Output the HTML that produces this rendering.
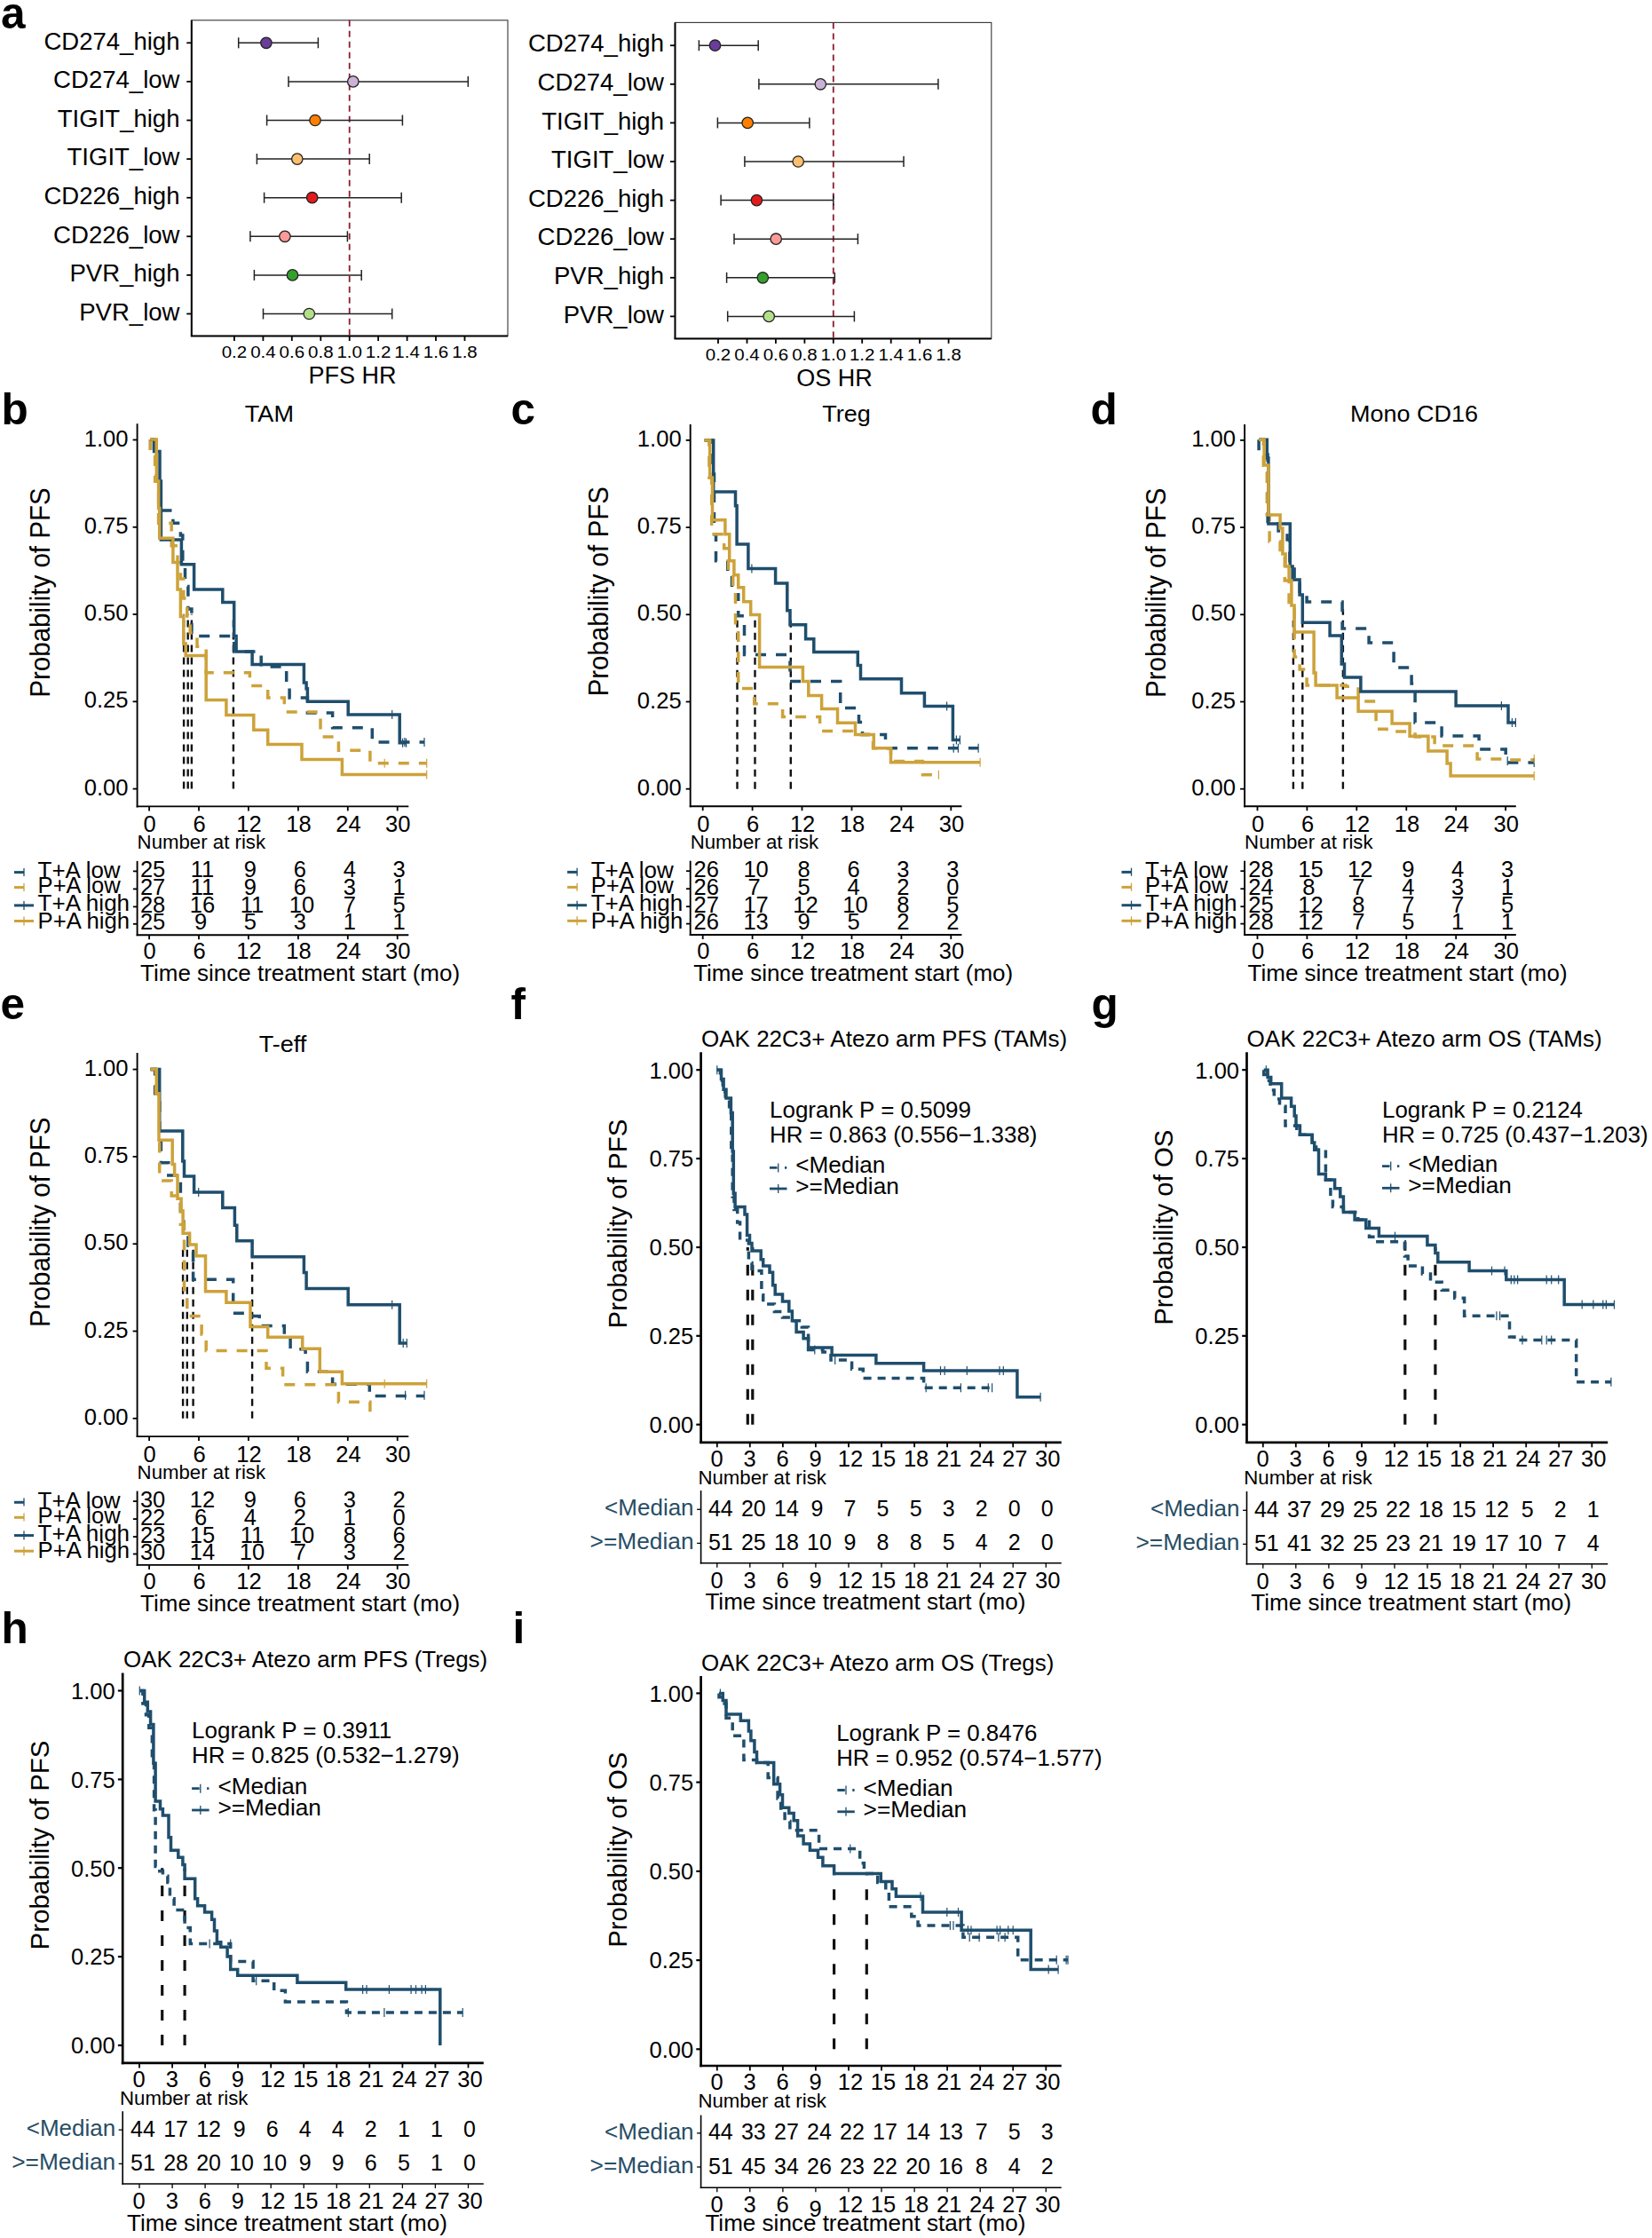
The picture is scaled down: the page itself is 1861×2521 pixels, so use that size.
<!DOCTYPE html>
<html lang="en"><head><meta charset="utf-8"><title>Figure</title>
<style>html,body{margin:0;padding:0;background:#fff}body{width:1861px;height:2521px;overflow:hidden}svg text{font-family:"Liberation Sans",sans-serif}</style></head>
<body>
<svg width="1861" height="2521" viewBox="0 0 1861 2521" font-family="'Liberation Sans', sans-serif" style="display:block">
<rect width="1861" height="2521" fill="#fff"/>
<text x="1.0" y="32.0" font-size="49.5" font-weight="bold">a</text>
<rect x="215.8" y="22.8" width="356.2" height="355.7" fill="none" stroke="#333" stroke-width="1.1"/>
<line x1="215.8" y1="22.8" x2="215.8" y2="378.5" stroke="#000" stroke-width="2"/>
<line x1="214.8" y1="378.5" x2="572.0" y2="378.5" stroke="#000" stroke-width="2"/>
<line x1="393.7" y1="22.8" x2="393.7" y2="378.5" stroke="#8b1a33" stroke-width="1.8" stroke-dasharray="7 5"/>
<line x1="263.9" y1="378.5" x2="263.9" y2="384.0" stroke="#000" stroke-width="1.8"/>
<text x="263.9" y="402.8" font-size="17.5" text-anchor="middle" textLength="28.5" lengthAdjust="spacingAndGlyphs">0.2</text>
<line x1="296.4" y1="378.5" x2="296.4" y2="384.0" stroke="#000" stroke-width="1.8"/>
<text x="296.4" y="402.8" font-size="17.5" text-anchor="middle" textLength="28.5" lengthAdjust="spacingAndGlyphs">0.4</text>
<line x1="328.8" y1="378.5" x2="328.8" y2="384.0" stroke="#000" stroke-width="1.8"/>
<text x="328.8" y="402.8" font-size="17.5" text-anchor="middle" textLength="28.5" lengthAdjust="spacingAndGlyphs">0.6</text>
<line x1="361.3" y1="378.5" x2="361.3" y2="384.0" stroke="#000" stroke-width="1.8"/>
<text x="361.3" y="402.8" font-size="17.5" text-anchor="middle" textLength="28.5" lengthAdjust="spacingAndGlyphs">0.8</text>
<line x1="393.7" y1="378.5" x2="393.7" y2="384.0" stroke="#000" stroke-width="1.8"/>
<text x="393.7" y="402.8" font-size="17.5" text-anchor="middle" textLength="28.5" lengthAdjust="spacingAndGlyphs">1.0</text>
<line x1="426.1" y1="378.5" x2="426.1" y2="384.0" stroke="#000" stroke-width="1.8"/>
<text x="426.1" y="402.8" font-size="17.5" text-anchor="middle" textLength="28.5" lengthAdjust="spacingAndGlyphs">1.2</text>
<line x1="458.6" y1="378.5" x2="458.6" y2="384.0" stroke="#000" stroke-width="1.8"/>
<text x="458.6" y="402.8" font-size="17.5" text-anchor="middle" textLength="28.5" lengthAdjust="spacingAndGlyphs">1.4</text>
<line x1="491.0" y1="378.5" x2="491.0" y2="384.0" stroke="#000" stroke-width="1.8"/>
<text x="491.0" y="402.8" font-size="17.5" text-anchor="middle" textLength="28.5" lengthAdjust="spacingAndGlyphs">1.6</text>
<line x1="523.5" y1="378.5" x2="523.5" y2="384.0" stroke="#000" stroke-width="1.8"/>
<text x="523.5" y="402.8" font-size="17.5" text-anchor="middle" textLength="28.5" lengthAdjust="spacingAndGlyphs">1.8</text>
<text x="397.0" y="432.0" font-size="27" text-anchor="middle">PFS HR</text>
<line x1="210.3" y1="48.3" x2="215.8" y2="48.3" stroke="#000" stroke-width="1.8"/>
<text x="202.5" y="55.5" font-size="27" text-anchor="end" textLength="153.1" lengthAdjust="spacingAndGlyphs">CD274_high</text>
<line x1="268.7" y1="48.3" x2="358.4" y2="48.3" stroke="#222" stroke-width="1.5"/>
<line x1="268.7" y1="42.3" x2="268.7" y2="54.3" stroke="#222" stroke-width="1.5"/>
<line x1="358.4" y1="42.3" x2="358.4" y2="54.3" stroke="#222" stroke-width="1.5"/>
<circle cx="299.9" cy="48.3" r="6.2" fill="#6a3d9a" stroke="#222" stroke-width="1.3"/>
<line x1="210.3" y1="91.9" x2="215.8" y2="91.9" stroke="#000" stroke-width="1.8"/>
<text x="202.5" y="99.1" font-size="27" text-anchor="end" textLength="142.4" lengthAdjust="spacingAndGlyphs">CD274_low</text>
<line x1="325.0" y1="91.9" x2="527.3" y2="91.9" stroke="#222" stroke-width="1.5"/>
<line x1="325.0" y1="85.9" x2="325.0" y2="97.9" stroke="#222" stroke-width="1.5"/>
<line x1="527.3" y1="85.9" x2="527.3" y2="97.9" stroke="#222" stroke-width="1.5"/>
<circle cx="397.8" cy="91.9" r="6.2" fill="#cab2d6" stroke="#222" stroke-width="1.3"/>
<line x1="210.3" y1="135.5" x2="215.8" y2="135.5" stroke="#000" stroke-width="1.8"/>
<text x="202.5" y="142.7" font-size="27" text-anchor="end" textLength="137.7" lengthAdjust="spacingAndGlyphs">TIGIT_high</text>
<line x1="300.6" y1="135.5" x2="453.4" y2="135.5" stroke="#222" stroke-width="1.5"/>
<line x1="300.6" y1="129.5" x2="300.6" y2="141.5" stroke="#222" stroke-width="1.5"/>
<line x1="453.4" y1="129.5" x2="453.4" y2="141.5" stroke="#222" stroke-width="1.5"/>
<circle cx="355.0" cy="135.5" r="6.2" fill="#ff7f00" stroke="#222" stroke-width="1.3"/>
<line x1="210.3" y1="179.1" x2="215.8" y2="179.1" stroke="#000" stroke-width="1.8"/>
<text x="202.5" y="186.3" font-size="27" text-anchor="end" textLength="127.0" lengthAdjust="spacingAndGlyphs">TIGIT_low</text>
<line x1="289.4" y1="179.1" x2="416.2" y2="179.1" stroke="#222" stroke-width="1.5"/>
<line x1="289.4" y1="173.1" x2="289.4" y2="185.1" stroke="#222" stroke-width="1.5"/>
<line x1="416.2" y1="173.1" x2="416.2" y2="185.1" stroke="#222" stroke-width="1.5"/>
<circle cx="334.8" cy="179.1" r="6.2" fill="#fdbf6f" stroke="#222" stroke-width="1.3"/>
<line x1="210.3" y1="222.7" x2="215.8" y2="222.7" stroke="#000" stroke-width="1.8"/>
<text x="202.5" y="229.9" font-size="27" text-anchor="end" textLength="153.1" lengthAdjust="spacingAndGlyphs">CD226_high</text>
<line x1="297.6" y1="222.7" x2="452.2" y2="222.7" stroke="#222" stroke-width="1.5"/>
<line x1="297.6" y1="216.7" x2="297.6" y2="228.7" stroke="#222" stroke-width="1.5"/>
<line x1="452.2" y1="216.7" x2="452.2" y2="228.7" stroke="#222" stroke-width="1.5"/>
<circle cx="351.7" cy="222.7" r="6.2" fill="#e31a1c" stroke="#222" stroke-width="1.3"/>
<line x1="210.3" y1="266.3" x2="215.8" y2="266.3" stroke="#000" stroke-width="1.8"/>
<text x="202.5" y="273.5" font-size="27" text-anchor="end" textLength="142.4" lengthAdjust="spacingAndGlyphs">CD226_low</text>
<line x1="281.9" y1="266.3" x2="391.4" y2="266.3" stroke="#222" stroke-width="1.5"/>
<line x1="281.9" y1="260.3" x2="281.9" y2="272.3" stroke="#222" stroke-width="1.5"/>
<line x1="391.4" y1="260.3" x2="391.4" y2="272.3" stroke="#222" stroke-width="1.5"/>
<circle cx="320.9" cy="266.3" r="6.2" fill="#fb9a99" stroke="#222" stroke-width="1.3"/>
<line x1="210.3" y1="309.9" x2="215.8" y2="309.9" stroke="#000" stroke-width="1.8"/>
<text x="202.5" y="317.1" font-size="27" text-anchor="end" textLength="124.0" lengthAdjust="spacingAndGlyphs">PVR_high</text>
<line x1="286.4" y1="309.9" x2="407.2" y2="309.9" stroke="#222" stroke-width="1.5"/>
<line x1="286.4" y1="303.9" x2="286.4" y2="315.9" stroke="#222" stroke-width="1.5"/>
<line x1="407.2" y1="303.9" x2="407.2" y2="315.9" stroke="#222" stroke-width="1.5"/>
<circle cx="329.5" cy="309.9" r="6.2" fill="#33a02c" stroke="#222" stroke-width="1.3"/>
<line x1="210.3" y1="353.5" x2="215.8" y2="353.5" stroke="#000" stroke-width="1.8"/>
<text x="202.5" y="360.7" font-size="27" text-anchor="end" textLength="113.3" lengthAdjust="spacingAndGlyphs">PVR_low</text>
<line x1="296.5" y1="353.5" x2="441.7" y2="353.5" stroke="#222" stroke-width="1.5"/>
<line x1="296.5" y1="347.5" x2="296.5" y2="359.5" stroke="#222" stroke-width="1.5"/>
<line x1="441.7" y1="347.5" x2="441.7" y2="359.5" stroke="#222" stroke-width="1.5"/>
<circle cx="348.3" cy="353.5" r="6.2" fill="#b2df8a" stroke="#222" stroke-width="1.3"/>
<rect x="760.5" y="25.4" width="356.3" height="356.0" fill="none" stroke="#333" stroke-width="1.1"/>
<line x1="760.5" y1="25.4" x2="760.5" y2="381.4" stroke="#000" stroke-width="2"/>
<line x1="759.5" y1="381.4" x2="1116.8" y2="381.4" stroke="#000" stroke-width="2"/>
<line x1="938.8" y1="25.4" x2="938.8" y2="381.4" stroke="#8b1a33" stroke-width="1.8" stroke-dasharray="7 5"/>
<line x1="809.0" y1="381.4" x2="809.0" y2="386.9" stroke="#000" stroke-width="1.8"/>
<text x="809.0" y="405.5" font-size="17.5" text-anchor="middle" textLength="28.5" lengthAdjust="spacingAndGlyphs">0.2</text>
<line x1="841.5" y1="381.4" x2="841.5" y2="386.9" stroke="#000" stroke-width="1.8"/>
<text x="841.5" y="405.5" font-size="17.5" text-anchor="middle" textLength="28.5" lengthAdjust="spacingAndGlyphs">0.4</text>
<line x1="873.9" y1="381.4" x2="873.9" y2="386.9" stroke="#000" stroke-width="1.8"/>
<text x="873.9" y="405.5" font-size="17.5" text-anchor="middle" textLength="28.5" lengthAdjust="spacingAndGlyphs">0.6</text>
<line x1="906.4" y1="381.4" x2="906.4" y2="386.9" stroke="#000" stroke-width="1.8"/>
<text x="906.4" y="405.5" font-size="17.5" text-anchor="middle" textLength="28.5" lengthAdjust="spacingAndGlyphs">0.8</text>
<line x1="938.8" y1="381.4" x2="938.8" y2="386.9" stroke="#000" stroke-width="1.8"/>
<text x="938.8" y="405.5" font-size="17.5" text-anchor="middle" textLength="28.5" lengthAdjust="spacingAndGlyphs">1.0</text>
<line x1="971.2" y1="381.4" x2="971.2" y2="386.9" stroke="#000" stroke-width="1.8"/>
<text x="971.2" y="405.5" font-size="17.5" text-anchor="middle" textLength="28.5" lengthAdjust="spacingAndGlyphs">1.2</text>
<line x1="1003.7" y1="381.4" x2="1003.7" y2="386.9" stroke="#000" stroke-width="1.8"/>
<text x="1003.7" y="405.5" font-size="17.5" text-anchor="middle" textLength="28.5" lengthAdjust="spacingAndGlyphs">1.4</text>
<line x1="1036.1" y1="381.4" x2="1036.1" y2="386.9" stroke="#000" stroke-width="1.8"/>
<text x="1036.1" y="405.5" font-size="17.5" text-anchor="middle" textLength="28.5" lengthAdjust="spacingAndGlyphs">1.6</text>
<line x1="1068.6" y1="381.4" x2="1068.6" y2="386.9" stroke="#000" stroke-width="1.8"/>
<text x="1068.6" y="405.5" font-size="17.5" text-anchor="middle" textLength="28.5" lengthAdjust="spacingAndGlyphs">1.8</text>
<text x="940.0" y="435.0" font-size="27" text-anchor="middle">OS HR</text>
<line x1="755.0" y1="51.2" x2="760.5" y2="51.2" stroke="#000" stroke-width="1.8"/>
<text x="748.0" y="58.4" font-size="27" text-anchor="end" textLength="153.1" lengthAdjust="spacingAndGlyphs">CD274_high</text>
<line x1="787.4" y1="51.2" x2="854.2" y2="51.2" stroke="#222" stroke-width="1.5"/>
<line x1="787.4" y1="45.2" x2="787.4" y2="57.2" stroke="#222" stroke-width="1.5"/>
<line x1="854.2" y1="45.2" x2="854.2" y2="57.2" stroke="#222" stroke-width="1.5"/>
<circle cx="805.5" cy="51.2" r="6.2" fill="#6a3d9a" stroke="#222" stroke-width="1.3"/>
<line x1="755.0" y1="94.8" x2="760.5" y2="94.8" stroke="#000" stroke-width="1.8"/>
<text x="748.0" y="102.0" font-size="27" text-anchor="end" textLength="142.4" lengthAdjust="spacingAndGlyphs">CD274_low</text>
<line x1="854.9" y1="94.8" x2="1056.9" y2="94.8" stroke="#222" stroke-width="1.5"/>
<line x1="854.9" y1="88.8" x2="854.9" y2="100.8" stroke="#222" stroke-width="1.5"/>
<line x1="1056.9" y1="88.8" x2="1056.9" y2="100.8" stroke="#222" stroke-width="1.5"/>
<circle cx="924.3" cy="94.8" r="6.2" fill="#cab2d6" stroke="#222" stroke-width="1.3"/>
<line x1="755.0" y1="138.4" x2="760.5" y2="138.4" stroke="#000" stroke-width="1.8"/>
<text x="748.0" y="145.6" font-size="27" text-anchor="end" textLength="137.7" lengthAdjust="spacingAndGlyphs">TIGIT_high</text>
<line x1="808.4" y1="138.4" x2="911.9" y2="138.4" stroke="#222" stroke-width="1.5"/>
<line x1="808.4" y1="132.4" x2="808.4" y2="144.4" stroke="#222" stroke-width="1.5"/>
<line x1="911.9" y1="132.4" x2="911.9" y2="144.4" stroke="#222" stroke-width="1.5"/>
<circle cx="842.2" cy="138.4" r="6.2" fill="#ff7f00" stroke="#222" stroke-width="1.3"/>
<line x1="755.0" y1="182.0" x2="760.5" y2="182.0" stroke="#000" stroke-width="1.8"/>
<text x="748.0" y="189.2" font-size="27" text-anchor="end" textLength="127.0" lengthAdjust="spacingAndGlyphs">TIGIT_low</text>
<line x1="838.9" y1="182.0" x2="1018.0" y2="182.0" stroke="#222" stroke-width="1.5"/>
<line x1="838.9" y1="176.0" x2="838.9" y2="188.0" stroke="#222" stroke-width="1.5"/>
<line x1="1018.0" y1="176.0" x2="1018.0" y2="188.0" stroke="#222" stroke-width="1.5"/>
<circle cx="899.2" cy="182.0" r="6.2" fill="#fdbf6f" stroke="#222" stroke-width="1.3"/>
<line x1="755.0" y1="225.6" x2="760.5" y2="225.6" stroke="#000" stroke-width="1.8"/>
<text x="748.0" y="232.8" font-size="27" text-anchor="end" textLength="153.1" lengthAdjust="spacingAndGlyphs">CD226_high</text>
<line x1="812.1" y1="225.6" x2="938.8" y2="225.6" stroke="#222" stroke-width="1.5"/>
<line x1="812.1" y1="219.6" x2="812.1" y2="231.6" stroke="#222" stroke-width="1.5"/>
<line x1="938.8" y1="219.6" x2="938.8" y2="231.6" stroke="#222" stroke-width="1.5"/>
<circle cx="852.4" cy="225.6" r="6.2" fill="#e31a1c" stroke="#222" stroke-width="1.3"/>
<line x1="755.0" y1="269.2" x2="760.5" y2="269.2" stroke="#000" stroke-width="1.8"/>
<text x="748.0" y="276.4" font-size="27" text-anchor="end" textLength="142.4" lengthAdjust="spacingAndGlyphs">CD226_low</text>
<line x1="827.0" y1="269.2" x2="966.4" y2="269.2" stroke="#222" stroke-width="1.5"/>
<line x1="827.0" y1="263.2" x2="827.0" y2="275.2" stroke="#222" stroke-width="1.5"/>
<line x1="966.4" y1="263.2" x2="966.4" y2="275.2" stroke="#222" stroke-width="1.5"/>
<circle cx="874.2" cy="269.2" r="6.2" fill="#fb9a99" stroke="#222" stroke-width="1.3"/>
<line x1="755.0" y1="312.8" x2="760.5" y2="312.8" stroke="#000" stroke-width="1.8"/>
<text x="748.0" y="320.0" font-size="27" text-anchor="end" textLength="124.0" lengthAdjust="spacingAndGlyphs">PVR_high</text>
<line x1="818.6" y1="312.8" x2="940.3" y2="312.8" stroke="#222" stroke-width="1.5"/>
<line x1="818.6" y1="306.8" x2="818.6" y2="318.8" stroke="#222" stroke-width="1.5"/>
<line x1="940.3" y1="306.8" x2="940.3" y2="318.8" stroke="#222" stroke-width="1.5"/>
<circle cx="859.3" cy="312.8" r="6.2" fill="#33a02c" stroke="#222" stroke-width="1.3"/>
<line x1="755.0" y1="356.4" x2="760.5" y2="356.4" stroke="#000" stroke-width="1.8"/>
<text x="748.0" y="363.6" font-size="27" text-anchor="end" textLength="113.3" lengthAdjust="spacingAndGlyphs">PVR_low</text>
<line x1="819.7" y1="356.4" x2="962.4" y2="356.4" stroke="#222" stroke-width="1.5"/>
<line x1="819.7" y1="350.4" x2="819.7" y2="362.4" stroke="#222" stroke-width="1.5"/>
<line x1="962.4" y1="350.4" x2="962.4" y2="362.4" stroke="#222" stroke-width="1.5"/>
<circle cx="866.2" cy="356.4" r="6.2" fill="#b2df8a" stroke="#222" stroke-width="1.3"/>
<text x="1.5" y="477.5" font-size="49.5" font-weight="bold">b</text>
<text x="303.4" y="474.9" font-size="26.5" text-anchor="middle" textLength="55.1" lengthAdjust="spacingAndGlyphs">TAM</text>
<line x1="154.6" y1="477.3" x2="154.6" y2="909.4" stroke="#000" stroke-width="1.9"/>
<line x1="153.7" y1="908.4" x2="460.3" y2="908.4" stroke="#000" stroke-width="1.9"/>
<line x1="149.6" y1="888.6" x2="154.6" y2="888.6" stroke="#000" stroke-width="1.8"/>
<text x="144.6" y="895.7" font-size="25.6" text-anchor="end">0.00</text>
<line x1="149.6" y1="790.3" x2="154.6" y2="790.3" stroke="#000" stroke-width="1.8"/>
<text x="144.6" y="797.4" font-size="25.6" text-anchor="end">0.25</text>
<line x1="149.6" y1="692.0" x2="154.6" y2="692.0" stroke="#000" stroke-width="1.8"/>
<text x="144.6" y="699.1" font-size="25.6" text-anchor="end">0.50</text>
<line x1="149.6" y1="593.8" x2="154.6" y2="593.8" stroke="#000" stroke-width="1.8"/>
<text x="144.6" y="600.9" font-size="25.6" text-anchor="end">0.75</text>
<line x1="149.6" y1="495.5" x2="154.6" y2="495.5" stroke="#000" stroke-width="1.8"/>
<text x="144.6" y="502.6" font-size="25.6" text-anchor="end">1.00</text>
<text font-size="31" text-anchor="middle" textLength="236.5" lengthAdjust="spacingAndGlyphs" transform="translate(56.0 667.5) rotate(-90)">Probability of PFS</text>
<line x1="168.1" y1="908.4" x2="168.1" y2="913.4" stroke="#000" stroke-width="1.8"/>
<text x="168.7" y="937.2" font-size="25.5" text-anchor="middle">0</text>
<line x1="224.0" y1="908.4" x2="224.0" y2="913.4" stroke="#000" stroke-width="1.8"/>
<text x="224.6" y="937.2" font-size="25.5" text-anchor="middle">6</text>
<line x1="279.9" y1="908.4" x2="279.9" y2="913.4" stroke="#000" stroke-width="1.8"/>
<text x="280.5" y="937.2" font-size="25.5" text-anchor="middle">12</text>
<line x1="335.9" y1="908.4" x2="335.9" y2="913.4" stroke="#000" stroke-width="1.8"/>
<text x="336.5" y="937.2" font-size="25.5" text-anchor="middle">18</text>
<line x1="391.8" y1="908.4" x2="391.8" y2="913.4" stroke="#000" stroke-width="1.8"/>
<text x="392.4" y="937.2" font-size="25.5" text-anchor="middle">24</text>
<line x1="447.7" y1="908.4" x2="447.7" y2="913.4" stroke="#000" stroke-width="1.8"/>
<text x="448.3" y="937.2" font-size="25.5" text-anchor="middle">30</text>
<text x="154.6" y="955.9" font-size="22" textLength="144.5" lengthAdjust="spacingAndGlyphs">Number at risk</text>
<line x1="154.6" y1="969.9" x2="154.6" y2="1054.2" stroke="#000" stroke-width="1.9"/>
<line x1="153.7" y1="1053.2" x2="460.3" y2="1053.2" stroke="#000" stroke-width="1.9"/>
<line x1="149.9" y1="981.4" x2="154.6" y2="981.4" stroke="#000" stroke-width="1.8"/>
<text x="42.6" y="989.2" font-size="25.5" textLength="93.0" lengthAdjust="spacingAndGlyphs">T+A low</text>
<line x1="16.0" y1="982.6" x2="27.0" y2="982.6" stroke="#1f4e6d" stroke-width="3"/>
<line x1="27.0" y1="977.9" x2="27.0" y2="986.9" stroke="#1f4e6d" stroke-width="1.3"/>
<text x="172.1" y="987.9" font-size="25.5" text-anchor="middle">25</text>
<text x="228.0" y="987.9" font-size="25.5" text-anchor="middle">11</text>
<text x="281.9" y="987.9" font-size="25.5" text-anchor="middle">9</text>
<text x="337.9" y="987.9" font-size="25.5" text-anchor="middle">6</text>
<text x="393.8" y="987.9" font-size="25.5" text-anchor="middle">4</text>
<text x="449.7" y="987.9" font-size="25.5" text-anchor="middle">3</text>
<line x1="149.9" y1="1001.4" x2="154.6" y2="1001.4" stroke="#000" stroke-width="1.8"/>
<text x="42.6" y="1006.3" font-size="25.5" textLength="93.0" lengthAdjust="spacingAndGlyphs">P+A low</text>
<line x1="16.0" y1="999.6" x2="27.0" y2="999.6" stroke="#cda23a" stroke-width="3"/>
<line x1="27.0" y1="994.9" x2="27.0" y2="1003.9" stroke="#cda23a" stroke-width="1.3"/>
<text x="172.1" y="1007.9" font-size="25.5" text-anchor="middle">27</text>
<text x="228.0" y="1007.9" font-size="25.5" text-anchor="middle">11</text>
<text x="281.9" y="1007.9" font-size="25.5" text-anchor="middle">9</text>
<text x="337.9" y="1007.9" font-size="25.5" text-anchor="middle">6</text>
<text x="393.8" y="1007.9" font-size="25.5" text-anchor="middle">3</text>
<text x="449.7" y="1007.9" font-size="25.5" text-anchor="middle">1</text>
<line x1="149.9" y1="1021.4" x2="154.6" y2="1021.4" stroke="#000" stroke-width="1.8"/>
<text x="42.6" y="1026.3" font-size="25.5" textLength="103.5" lengthAdjust="spacingAndGlyphs">T+A high</text>
<line x1="16.0" y1="1019.9" x2="38.0" y2="1019.9" stroke="#1f4e6d" stroke-width="3"/>
<line x1="27.0" y1="1014.9" x2="27.0" y2="1024.9" stroke="#1f4e6d" stroke-width="1.3"/>
<text x="172.1" y="1027.9" font-size="25.5" text-anchor="middle">28</text>
<text x="228.0" y="1027.9" font-size="25.5" text-anchor="middle">16</text>
<text x="283.9" y="1027.9" font-size="25.5" text-anchor="middle">11</text>
<text x="339.9" y="1027.9" font-size="25.5" text-anchor="middle">10</text>
<text x="393.8" y="1027.9" font-size="25.5" text-anchor="middle">7</text>
<text x="449.7" y="1027.9" font-size="25.5" text-anchor="middle">5</text>
<line x1="149.9" y1="1040.8" x2="154.6" y2="1040.8" stroke="#000" stroke-width="1.8"/>
<text x="42.6" y="1045.7" font-size="25.5" textLength="103.5" lengthAdjust="spacingAndGlyphs">P+A high</text>
<line x1="16.0" y1="1037.5" x2="38.0" y2="1037.5" stroke="#cda23a" stroke-width="3"/>
<line x1="27.0" y1="1032.5" x2="27.0" y2="1042.5" stroke="#cda23a" stroke-width="1.3"/>
<text x="172.1" y="1047.3" font-size="25.5" text-anchor="middle">25</text>
<text x="226.0" y="1047.3" font-size="25.5" text-anchor="middle">9</text>
<text x="281.9" y="1047.3" font-size="25.5" text-anchor="middle">5</text>
<text x="337.9" y="1047.3" font-size="25.5" text-anchor="middle">3</text>
<text x="393.8" y="1047.3" font-size="25.5" text-anchor="middle">1</text>
<text x="449.7" y="1047.3" font-size="25.5" text-anchor="middle">1</text>
<line x1="168.1" y1="1053.2" x2="168.1" y2="1058.2" stroke="#000" stroke-width="1.8"/>
<text x="168.7" y="1080.2" font-size="25.5" text-anchor="middle">0</text>
<line x1="224.0" y1="1053.2" x2="224.0" y2="1058.2" stroke="#000" stroke-width="1.8"/>
<text x="224.6" y="1080.2" font-size="25.5" text-anchor="middle">6</text>
<line x1="279.9" y1="1053.2" x2="279.9" y2="1058.2" stroke="#000" stroke-width="1.8"/>
<text x="280.5" y="1080.2" font-size="25.5" text-anchor="middle">12</text>
<line x1="335.9" y1="1053.2" x2="335.9" y2="1058.2" stroke="#000" stroke-width="1.8"/>
<text x="336.5" y="1080.2" font-size="25.5" text-anchor="middle">18</text>
<line x1="391.8" y1="1053.2" x2="391.8" y2="1058.2" stroke="#000" stroke-width="1.8"/>
<text x="392.4" y="1080.2" font-size="25.5" text-anchor="middle">24</text>
<line x1="447.7" y1="1053.2" x2="447.7" y2="1058.2" stroke="#000" stroke-width="1.8"/>
<text x="448.3" y="1080.2" font-size="25.5" text-anchor="middle">30</text>
<text x="158.1" y="1104.8" font-size="26" textLength="360.0" lengthAdjust="spacingAndGlyphs">Time since treatment start (mo)</text>
<line x1="207.1" y1="888.6" x2="207.1" y2="691.7" stroke="#111" stroke-width="2.4" stroke-dasharray="8 6"/>
<line x1="211.7" y1="888.6" x2="211.7" y2="691.7" stroke="#111" stroke-width="2.4" stroke-dasharray="8 6"/>
<line x1="215.9" y1="888.6" x2="215.9" y2="691.7" stroke="#111" stroke-width="2.4" stroke-dasharray="8 6"/>
<line x1="262.9" y1="888.6" x2="262.9" y2="696.1" stroke="#111" stroke-width="2.4" stroke-dasharray="8 6"/>
<path d="M169.5 495.1V508.6H176.3V541.9H180.7V575.1H194.9V589.3H203.4V602.9H205.8V633.4H208.5V660.5H211.9V685.9H215.9V716.4H263.7V734.1H294.2V751.0H322.7V768.0H326.1V785.9H346.4V802.9H374.6V819.8H419.3V836.1H478.0" fill="none" stroke="#1f4e6d" stroke-width="3.5" stroke-dasharray="12 11" stroke-linejoin="miter"/>
<path d="M169.5 495.1V508.6H174.6V541.9H178.6V589.3H193.2V614.7H200.0V633.4H203.4V652.0H206.8V674.1H210.8V697.8H214.2V713.1H222.0V728.3H232.2V757.8H281.4V772.4H301.7V785.9H320.3V801.9H361.0V830.0H381.4V845.3H416.9V859.8H480.7" fill="none" stroke="#cda23a" stroke-width="3.5" stroke-dasharray="12 11" stroke-linejoin="miter"/>
<path d="M169.5 495.1H173.6V508.6H180.0V541.9H181.4V608.0H204.4V635.8H218.6V663.9H250.8V678.5H263.7V716.4H266.1V734.1H284.1V748.6H342.4V769.0H345.1V775.8H346.4V790.3H392.2V804.9H450.2V836.8H457.6" fill="none" stroke="#1f4e6d" stroke-width="3.5" stroke-linejoin="miter"/>
<path d="M169.5 495.1H176.3V541.9H178.6V572.4H179.7V606.3H194.9V633.4H200.0V663.9H203.4V694.4H206.8V724.9H209.2V738.5H232.2V788.6H254.9V805.6H285.8V822.2H301.7V838.5H340.0V855.4H385.4V872.4H480.7" fill="none" stroke="#cda23a" stroke-width="3.5" stroke-linejoin="miter"/>
<line x1="441.7" y1="799.9" x2="441.7" y2="809.9" stroke="#1f4e6d" stroke-width="1.2"/>
<line x1="453.6" y1="831.8" x2="453.6" y2="841.8" stroke="#1f4e6d" stroke-width="1.2"/>
<line x1="457.6" y1="831.8" x2="457.6" y2="841.8" stroke="#1f4e6d" stroke-width="1.2"/>
<line x1="478.0" y1="831.1" x2="478.0" y2="841.1" stroke="#1f4e6d" stroke-width="1.2"/>
<line x1="455.9" y1="831.1" x2="455.9" y2="841.1" stroke="#1f4e6d" stroke-width="1.2"/>
<line x1="433.2" y1="854.8" x2="433.2" y2="864.8" stroke="#cda23a" stroke-width="1.2"/>
<line x1="480.7" y1="854.8" x2="480.7" y2="864.8" stroke="#cda23a" stroke-width="1.2"/>
<line x1="480.7" y1="867.4" x2="480.7" y2="877.4" stroke="#cda23a" stroke-width="1.2"/>
<text x="575.5" y="478.0" font-size="49.5" font-weight="bold">c</text>
<text x="953.5" y="474.7" font-size="26.5" text-anchor="middle" textLength="54.6" lengthAdjust="spacingAndGlyphs">Treg</text>
<line x1="777.7" y1="478.0" x2="777.7" y2="909.2" stroke="#000" stroke-width="1.9"/>
<line x1="776.8" y1="908.2" x2="1083.4" y2="908.2" stroke="#000" stroke-width="1.9"/>
<line x1="772.7" y1="888.7" x2="777.7" y2="888.7" stroke="#000" stroke-width="1.8"/>
<text x="767.7" y="895.8" font-size="25.6" text-anchor="end">0.00</text>
<line x1="772.7" y1="790.5" x2="777.7" y2="790.5" stroke="#000" stroke-width="1.8"/>
<text x="767.7" y="797.6" font-size="25.6" text-anchor="end">0.25</text>
<line x1="772.7" y1="692.3" x2="777.7" y2="692.3" stroke="#000" stroke-width="1.8"/>
<text x="767.7" y="699.4" font-size="25.6" text-anchor="end">0.50</text>
<line x1="772.7" y1="594.1" x2="777.7" y2="594.1" stroke="#000" stroke-width="1.8"/>
<text x="767.7" y="601.2" font-size="25.6" text-anchor="end">0.75</text>
<line x1="772.7" y1="495.9" x2="777.7" y2="495.9" stroke="#000" stroke-width="1.8"/>
<text x="767.7" y="503.0" font-size="25.6" text-anchor="end">1.00</text>
<text font-size="31" text-anchor="middle" textLength="236.5" lengthAdjust="spacingAndGlyphs" transform="translate(685.0 666.3) rotate(-90)">Probability of PFS</text>
<line x1="791.7" y1="908.2" x2="791.7" y2="913.2" stroke="#000" stroke-width="1.8"/>
<text x="792.3" y="937.0" font-size="25.5" text-anchor="middle">0</text>
<line x1="847.6" y1="908.2" x2="847.6" y2="913.2" stroke="#000" stroke-width="1.8"/>
<text x="848.2" y="937.0" font-size="25.5" text-anchor="middle">6</text>
<line x1="903.5" y1="908.2" x2="903.5" y2="913.2" stroke="#000" stroke-width="1.8"/>
<text x="904.1" y="937.0" font-size="25.5" text-anchor="middle">12</text>
<line x1="959.5" y1="908.2" x2="959.5" y2="913.2" stroke="#000" stroke-width="1.8"/>
<text x="960.1" y="937.0" font-size="25.5" text-anchor="middle">18</text>
<line x1="1015.4" y1="908.2" x2="1015.4" y2="913.2" stroke="#000" stroke-width="1.8"/>
<text x="1016.0" y="937.0" font-size="25.5" text-anchor="middle">24</text>
<line x1="1071.3" y1="908.2" x2="1071.3" y2="913.2" stroke="#000" stroke-width="1.8"/>
<text x="1071.9" y="937.0" font-size="25.5" text-anchor="middle">30</text>
<text x="777.7" y="955.7" font-size="22" textLength="144.5" lengthAdjust="spacingAndGlyphs">Number at risk</text>
<line x1="777.7" y1="969.7" x2="777.7" y2="1054.0" stroke="#000" stroke-width="1.9"/>
<line x1="776.8" y1="1053.0" x2="1083.4" y2="1053.0" stroke="#000" stroke-width="1.9"/>
<line x1="773.0" y1="981.2" x2="777.7" y2="981.2" stroke="#000" stroke-width="1.8"/>
<text x="665.7" y="989.0" font-size="25.5" textLength="93.0" lengthAdjust="spacingAndGlyphs">T+A low</text>
<line x1="639.1" y1="982.4" x2="650.1" y2="982.4" stroke="#1f4e6d" stroke-width="3"/>
<line x1="650.1" y1="977.7" x2="650.1" y2="986.7" stroke="#1f4e6d" stroke-width="1.3"/>
<text x="795.7" y="987.7" font-size="25.5" text-anchor="middle">26</text>
<text x="851.6" y="987.7" font-size="25.5" text-anchor="middle">10</text>
<text x="905.5" y="987.7" font-size="25.5" text-anchor="middle">8</text>
<text x="961.5" y="987.7" font-size="25.5" text-anchor="middle">6</text>
<text x="1017.4" y="987.7" font-size="25.5" text-anchor="middle">3</text>
<text x="1073.3" y="987.7" font-size="25.5" text-anchor="middle">3</text>
<line x1="773.0" y1="1001.2" x2="777.7" y2="1001.2" stroke="#000" stroke-width="1.8"/>
<text x="665.7" y="1006.1" font-size="25.5" textLength="93.0" lengthAdjust="spacingAndGlyphs">P+A low</text>
<line x1="639.1" y1="999.4" x2="650.1" y2="999.4" stroke="#cda23a" stroke-width="3"/>
<line x1="650.1" y1="994.7" x2="650.1" y2="1003.7" stroke="#cda23a" stroke-width="1.3"/>
<text x="795.7" y="1007.7" font-size="25.5" text-anchor="middle">26</text>
<text x="849.6" y="1007.7" font-size="25.5" text-anchor="middle">7</text>
<text x="905.5" y="1007.7" font-size="25.5" text-anchor="middle">5</text>
<text x="961.5" y="1007.7" font-size="25.5" text-anchor="middle">4</text>
<text x="1017.4" y="1007.7" font-size="25.5" text-anchor="middle">2</text>
<text x="1073.3" y="1007.7" font-size="25.5" text-anchor="middle">0</text>
<line x1="773.0" y1="1021.2" x2="777.7" y2="1021.2" stroke="#000" stroke-width="1.8"/>
<text x="665.7" y="1026.1" font-size="25.5" textLength="103.5" lengthAdjust="spacingAndGlyphs">T+A high</text>
<line x1="639.1" y1="1019.7" x2="661.1" y2="1019.7" stroke="#1f4e6d" stroke-width="3"/>
<line x1="650.1" y1="1014.7" x2="650.1" y2="1024.7" stroke="#1f4e6d" stroke-width="1.3"/>
<text x="795.7" y="1027.7" font-size="25.5" text-anchor="middle">27</text>
<text x="851.6" y="1027.7" font-size="25.5" text-anchor="middle">17</text>
<text x="907.5" y="1027.7" font-size="25.5" text-anchor="middle">12</text>
<text x="963.5" y="1027.7" font-size="25.5" text-anchor="middle">10</text>
<text x="1017.4" y="1027.7" font-size="25.5" text-anchor="middle">8</text>
<text x="1073.3" y="1027.7" font-size="25.5" text-anchor="middle">5</text>
<line x1="773.0" y1="1040.6" x2="777.7" y2="1040.6" stroke="#000" stroke-width="1.8"/>
<text x="665.7" y="1045.5" font-size="25.5" textLength="103.5" lengthAdjust="spacingAndGlyphs">P+A high</text>
<line x1="639.1" y1="1037.3" x2="661.1" y2="1037.3" stroke="#cda23a" stroke-width="3"/>
<line x1="650.1" y1="1032.3" x2="650.1" y2="1042.3" stroke="#cda23a" stroke-width="1.3"/>
<text x="795.7" y="1047.1" font-size="25.5" text-anchor="middle">26</text>
<text x="851.6" y="1047.1" font-size="25.5" text-anchor="middle">13</text>
<text x="905.5" y="1047.1" font-size="25.5" text-anchor="middle">9</text>
<text x="961.5" y="1047.1" font-size="25.5" text-anchor="middle">5</text>
<text x="1017.4" y="1047.1" font-size="25.5" text-anchor="middle">2</text>
<text x="1073.3" y="1047.1" font-size="25.5" text-anchor="middle">2</text>
<line x1="791.7" y1="1053.0" x2="791.7" y2="1058.0" stroke="#000" stroke-width="1.8"/>
<text x="792.3" y="1080.0" font-size="25.5" text-anchor="middle">0</text>
<line x1="847.6" y1="1053.0" x2="847.6" y2="1058.0" stroke="#000" stroke-width="1.8"/>
<text x="848.2" y="1080.0" font-size="25.5" text-anchor="middle">6</text>
<line x1="903.5" y1="1053.0" x2="903.5" y2="1058.0" stroke="#000" stroke-width="1.8"/>
<text x="904.1" y="1080.0" font-size="25.5" text-anchor="middle">12</text>
<line x1="959.5" y1="1053.0" x2="959.5" y2="1058.0" stroke="#000" stroke-width="1.8"/>
<text x="960.1" y="1080.0" font-size="25.5" text-anchor="middle">18</text>
<line x1="1015.4" y1="1053.0" x2="1015.4" y2="1058.0" stroke="#000" stroke-width="1.8"/>
<text x="1016.0" y="1080.0" font-size="25.5" text-anchor="middle">24</text>
<line x1="1071.3" y1="1053.0" x2="1071.3" y2="1058.0" stroke="#000" stroke-width="1.8"/>
<text x="1071.9" y="1080.0" font-size="25.5" text-anchor="middle">30</text>
<text x="781.2" y="1104.6" font-size="26" textLength="360.0" lengthAdjust="spacingAndGlyphs">Time since treatment start (mo)</text>
<line x1="830.5" y1="888.7" x2="830.5" y2="693.7" stroke="#111" stroke-width="2.4" stroke-dasharray="8 6"/>
<line x1="850.5" y1="888.7" x2="850.5" y2="693.7" stroke="#111" stroke-width="2.4" stroke-dasharray="8 6"/>
<line x1="890.8" y1="888.7" x2="890.8" y2="693.7" stroke="#111" stroke-width="2.4" stroke-dasharray="8 6"/>
<path d="M793.7 495.9H801.7V533.9H804.5V601.8H806.5V631.8H819.7V643.7H824.5V669.7H831.7V693.7H838.5V737.6H890.0V767.6H946.7V797.6H967.5V813.5H971.5V827.5H997.5V842.7H1102.1" fill="none" stroke="#1f4e6d" stroke-width="3.5" stroke-dasharray="12 11" stroke-linejoin="miter"/>
<path d="M793.7 495.9H798.9V537.9H801.7V601.8H815.7V617.8H820.5V645.7H825.7V669.7H828.5V701.7H831.7V769.6H835.7V775.6H849.7V792.8H881.6V807.5H923.6V823.5H959.5V827.5H983.5V842.7H1003.5V857.5H1039.4V872.7H1057.4" fill="none" stroke="#cda23a" stroke-width="3.5" stroke-dasharray="12 11" stroke-linejoin="miter"/>
<path d="M793.7 495.9H803.7V553.9H828.5V569.8H830.1V613.0H842.9V640.5H873.6V656.9H886.8V687.7H890.0V703.7H907.6V719.7H916.8V734.4H966.3V749.6H969.5V764.8H1015.5V780.8H1041.4V795.6H1073.4V833.5H1081.4" fill="none" stroke="#1f4e6d" stroke-width="3.5" stroke-linejoin="miter"/>
<path d="M793.7 495.9H799.7V537.9H802.5V585.8H816.9V601.8H821.7V631.8H826.9V647.7H831.7V661.7H837.7V677.7H845.7V692.5H855.6V751.6H904.4V767.6H910.8V783.6H925.6V798.4H943.5V814.3H963.5V827.5H984.3V842.7H1003.5V858.7H1104.1" fill="none" stroke="#cda23a" stroke-width="3.5" stroke-linejoin="miter"/>
<line x1="846.9" y1="635.5" x2="846.9" y2="645.5" stroke="#1f4e6d" stroke-width="1.2"/>
<line x1="1066.6" y1="790.6" x2="1066.6" y2="800.6" stroke="#1f4e6d" stroke-width="1.2"/>
<line x1="1077.4" y1="828.5" x2="1077.4" y2="838.5" stroke="#1f4e6d" stroke-width="1.2"/>
<line x1="1081.4" y1="828.5" x2="1081.4" y2="838.5" stroke="#1f4e6d" stroke-width="1.2"/>
<line x1="1074.2" y1="837.7" x2="1074.2" y2="847.7" stroke="#1f4e6d" stroke-width="1.2"/>
<line x1="1079.4" y1="837.7" x2="1079.4" y2="847.7" stroke="#1f4e6d" stroke-width="1.2"/>
<line x1="1102.1" y1="837.7" x2="1102.1" y2="847.7" stroke="#1f4e6d" stroke-width="1.2"/>
<line x1="1104.1" y1="853.7" x2="1104.1" y2="863.7" stroke="#cda23a" stroke-width="1.2"/>
<line x1="1057.4" y1="867.7" x2="1057.4" y2="877.7" stroke="#cda23a" stroke-width="1.2"/>
<text x="1228.5" y="477.5" font-size="49.5" font-weight="bold">d</text>
<text x="1593.0" y="474.7" font-size="26.5" text-anchor="middle" textLength="144.2" lengthAdjust="spacingAndGlyphs">Mono CD16</text>
<line x1="1402.1" y1="478.0" x2="1402.1" y2="909.2" stroke="#000" stroke-width="1.9"/>
<line x1="1401.1" y1="908.2" x2="1707.8" y2="908.2" stroke="#000" stroke-width="1.9"/>
<line x1="1397.1" y1="888.7" x2="1402.1" y2="888.7" stroke="#000" stroke-width="1.8"/>
<text x="1392.1" y="895.8" font-size="25.6" text-anchor="end">0.00</text>
<line x1="1397.1" y1="790.5" x2="1402.1" y2="790.5" stroke="#000" stroke-width="1.8"/>
<text x="1392.1" y="797.6" font-size="25.6" text-anchor="end">0.25</text>
<line x1="1397.1" y1="692.3" x2="1402.1" y2="692.3" stroke="#000" stroke-width="1.8"/>
<text x="1392.1" y="699.4" font-size="25.6" text-anchor="end">0.50</text>
<line x1="1397.1" y1="594.1" x2="1402.1" y2="594.1" stroke="#000" stroke-width="1.8"/>
<text x="1392.1" y="601.2" font-size="25.6" text-anchor="end">0.75</text>
<line x1="1397.1" y1="495.9" x2="1402.1" y2="495.9" stroke="#000" stroke-width="1.8"/>
<text x="1392.1" y="503.0" font-size="25.6" text-anchor="end">1.00</text>
<text font-size="31" text-anchor="middle" textLength="236.5" lengthAdjust="spacingAndGlyphs" transform="translate(1313.1 667.8) rotate(-90)">Probability of PFS</text>
<line x1="1416.5" y1="908.2" x2="1416.5" y2="913.2" stroke="#000" stroke-width="1.8"/>
<text x="1417.1" y="937.0" font-size="25.5" text-anchor="middle">0</text>
<line x1="1472.4" y1="908.2" x2="1472.4" y2="913.2" stroke="#000" stroke-width="1.8"/>
<text x="1473.0" y="937.0" font-size="25.5" text-anchor="middle">6</text>
<line x1="1528.3" y1="908.2" x2="1528.3" y2="913.2" stroke="#000" stroke-width="1.8"/>
<text x="1528.9" y="937.0" font-size="25.5" text-anchor="middle">12</text>
<line x1="1584.3" y1="908.2" x2="1584.3" y2="913.2" stroke="#000" stroke-width="1.8"/>
<text x="1584.9" y="937.0" font-size="25.5" text-anchor="middle">18</text>
<line x1="1640.2" y1="908.2" x2="1640.2" y2="913.2" stroke="#000" stroke-width="1.8"/>
<text x="1640.8" y="937.0" font-size="25.5" text-anchor="middle">24</text>
<line x1="1696.1" y1="908.2" x2="1696.1" y2="913.2" stroke="#000" stroke-width="1.8"/>
<text x="1696.7" y="937.0" font-size="25.5" text-anchor="middle">30</text>
<text x="1402.1" y="955.7" font-size="22" textLength="144.5" lengthAdjust="spacingAndGlyphs">Number at risk</text>
<line x1="1402.1" y1="969.7" x2="1402.1" y2="1054.0" stroke="#000" stroke-width="1.9"/>
<line x1="1401.1" y1="1053.0" x2="1707.8" y2="1053.0" stroke="#000" stroke-width="1.9"/>
<line x1="1397.4" y1="981.2" x2="1402.1" y2="981.2" stroke="#000" stroke-width="1.8"/>
<text x="1290.1" y="989.0" font-size="25.5" textLength="93.0" lengthAdjust="spacingAndGlyphs">T+A low</text>
<line x1="1263.5" y1="982.4" x2="1274.5" y2="982.4" stroke="#1f4e6d" stroke-width="3"/>
<line x1="1274.5" y1="977.7" x2="1274.5" y2="986.7" stroke="#1f4e6d" stroke-width="1.3"/>
<text x="1420.5" y="987.7" font-size="25.5" text-anchor="middle">28</text>
<text x="1476.4" y="987.7" font-size="25.5" text-anchor="middle">15</text>
<text x="1532.3" y="987.7" font-size="25.5" text-anchor="middle">12</text>
<text x="1586.3" y="987.7" font-size="25.5" text-anchor="middle">9</text>
<text x="1642.2" y="987.7" font-size="25.5" text-anchor="middle">4</text>
<text x="1698.1" y="987.7" font-size="25.5" text-anchor="middle">3</text>
<line x1="1397.4" y1="1001.2" x2="1402.1" y2="1001.2" stroke="#000" stroke-width="1.8"/>
<text x="1290.1" y="1006.1" font-size="25.5" textLength="93.0" lengthAdjust="spacingAndGlyphs">P+A low</text>
<line x1="1263.5" y1="999.4" x2="1274.5" y2="999.4" stroke="#cda23a" stroke-width="3"/>
<line x1="1274.5" y1="994.7" x2="1274.5" y2="1003.7" stroke="#cda23a" stroke-width="1.3"/>
<text x="1420.5" y="1007.7" font-size="25.5" text-anchor="middle">24</text>
<text x="1474.4" y="1007.7" font-size="25.5" text-anchor="middle">8</text>
<text x="1530.3" y="1007.7" font-size="25.5" text-anchor="middle">7</text>
<text x="1586.3" y="1007.7" font-size="25.5" text-anchor="middle">4</text>
<text x="1642.2" y="1007.7" font-size="25.5" text-anchor="middle">3</text>
<text x="1698.1" y="1007.7" font-size="25.5" text-anchor="middle">1</text>
<line x1="1397.4" y1="1021.2" x2="1402.1" y2="1021.2" stroke="#000" stroke-width="1.8"/>
<text x="1290.1" y="1026.1" font-size="25.5" textLength="103.5" lengthAdjust="spacingAndGlyphs">T+A high</text>
<line x1="1263.5" y1="1019.7" x2="1285.5" y2="1019.7" stroke="#1f4e6d" stroke-width="3"/>
<line x1="1274.5" y1="1014.7" x2="1274.5" y2="1024.7" stroke="#1f4e6d" stroke-width="1.3"/>
<text x="1420.5" y="1027.7" font-size="25.5" text-anchor="middle">25</text>
<text x="1476.4" y="1027.7" font-size="25.5" text-anchor="middle">12</text>
<text x="1530.3" y="1027.7" font-size="25.5" text-anchor="middle">8</text>
<text x="1586.3" y="1027.7" font-size="25.5" text-anchor="middle">7</text>
<text x="1642.2" y="1027.7" font-size="25.5" text-anchor="middle">7</text>
<text x="1698.1" y="1027.7" font-size="25.5" text-anchor="middle">5</text>
<line x1="1397.4" y1="1040.6" x2="1402.1" y2="1040.6" stroke="#000" stroke-width="1.8"/>
<text x="1290.1" y="1045.5" font-size="25.5" textLength="103.5" lengthAdjust="spacingAndGlyphs">P+A high</text>
<line x1="1263.5" y1="1037.3" x2="1285.5" y2="1037.3" stroke="#cda23a" stroke-width="3"/>
<line x1="1274.5" y1="1032.3" x2="1274.5" y2="1042.3" stroke="#cda23a" stroke-width="1.3"/>
<text x="1420.5" y="1047.1" font-size="25.5" text-anchor="middle">28</text>
<text x="1476.4" y="1047.1" font-size="25.5" text-anchor="middle">12</text>
<text x="1530.3" y="1047.1" font-size="25.5" text-anchor="middle">7</text>
<text x="1586.3" y="1047.1" font-size="25.5" text-anchor="middle">5</text>
<text x="1642.2" y="1047.1" font-size="25.5" text-anchor="middle">1</text>
<text x="1698.1" y="1047.1" font-size="25.5" text-anchor="middle">1</text>
<line x1="1416.5" y1="1053.0" x2="1416.5" y2="1058.0" stroke="#000" stroke-width="1.8"/>
<text x="1417.1" y="1080.0" font-size="25.5" text-anchor="middle">0</text>
<line x1="1472.4" y1="1053.0" x2="1472.4" y2="1058.0" stroke="#000" stroke-width="1.8"/>
<text x="1473.0" y="1080.0" font-size="25.5" text-anchor="middle">6</text>
<line x1="1528.3" y1="1053.0" x2="1528.3" y2="1058.0" stroke="#000" stroke-width="1.8"/>
<text x="1528.9" y="1080.0" font-size="25.5" text-anchor="middle">12</text>
<line x1="1584.3" y1="1053.0" x2="1584.3" y2="1058.0" stroke="#000" stroke-width="1.8"/>
<text x="1584.9" y="1080.0" font-size="25.5" text-anchor="middle">18</text>
<line x1="1640.2" y1="1053.0" x2="1640.2" y2="1058.0" stroke="#000" stroke-width="1.8"/>
<text x="1640.8" y="1080.0" font-size="25.5" text-anchor="middle">24</text>
<line x1="1696.1" y1="1053.0" x2="1696.1" y2="1058.0" stroke="#000" stroke-width="1.8"/>
<text x="1696.7" y="1080.0" font-size="25.5" text-anchor="middle">30</text>
<text x="1405.6" y="1104.6" font-size="26" textLength="360.0" lengthAdjust="spacingAndGlyphs">Time since treatment start (mo)</text>
<line x1="1456.9" y1="888.7" x2="1456.9" y2="694.1" stroke="#111" stroke-width="2.4" stroke-dasharray="8 6"/>
<line x1="1467.3" y1="888.7" x2="1467.3" y2="694.1" stroke="#111" stroke-width="2.4" stroke-dasharray="8 6"/>
<line x1="1512.9" y1="888.7" x2="1512.9" y2="686.1" stroke="#111" stroke-width="2.4" stroke-dasharray="8 6"/>
<path d="M1418.1 495.2V512.0H1428.1V590.1H1440.1V598.1H1450.1V608.1H1452.9V638.1H1458.1V654.1H1464.1V670.1H1472.1V678.1H1512.1V708.1H1542.1V724.1H1570.1V752.1H1590.1V770.1H1594.1V814.1H1624.1V828.9H1666.1V844.1H1696.2V858.9H1728.2" fill="none" stroke="#1f4e6d" stroke-width="3.5" stroke-dasharray="12 11" stroke-linejoin="miter"/>
<path d="M1418.1 495.2H1423.3V524.0H1427.3V580.0H1430.1V610.1H1442.1V624.1H1447.3V654.1H1452.1V682.1H1458.1V740.1H1464.1V754.1H1472.1V772.1H1516.1V773.3H1530.1V790.1H1550.1V821.3H1562.1V824.1H1594.1V830.1H1616.1V840.1H1664.1V854.9H1696.2V856.1H1728.2" fill="none" stroke="#cda23a" stroke-width="3.5" stroke-dasharray="12 11" stroke-linejoin="miter"/>
<path d="M1418.1 495.2H1427.3V516.0H1428.9V590.1H1453.3V638.1H1456.1V652.9H1464.1V670.1H1467.3V701.3H1498.1V716.1H1511.3V748.1H1514.5V762.9H1532.9V778.9H1640.1V794.9H1699.0V814.1H1707.4" fill="none" stroke="#1f4e6d" stroke-width="3.5" stroke-linejoin="miter"/>
<path d="M1418.1 495.2H1424.1V524.0H1428.9V580.0H1442.1V594.9H1444.9V624.1H1448.1V638.1H1452.1V654.1H1454.9V682.1H1458.1V712.1H1480.1V758.1H1482.1V772.1H1506.1V786.1H1530.1V801.3H1568.1V814.9H1588.1V829.3H1608.9V846.1H1630.1V860.1H1634.1V874.1H1728.2" fill="none" stroke="#cda23a" stroke-width="3.5" stroke-linejoin="miter"/>
<line x1="1691.4" y1="789.9" x2="1691.4" y2="799.9" stroke="#1f4e6d" stroke-width="1.2"/>
<line x1="1703.4" y1="809.1" x2="1703.4" y2="819.1" stroke="#1f4e6d" stroke-width="1.2"/>
<line x1="1707.4" y1="809.1" x2="1707.4" y2="819.1" stroke="#1f4e6d" stroke-width="1.2"/>
<line x1="1728.2" y1="853.9" x2="1728.2" y2="863.9" stroke="#1f4e6d" stroke-width="1.2"/>
<line x1="1698.2" y1="852.3" x2="1698.2" y2="862.3" stroke="#1f4e6d" stroke-width="1.2"/>
<line x1="1728.2" y1="849.9" x2="1728.2" y2="859.9" stroke="#cda23a" stroke-width="1.2"/>
<line x1="1728.2" y1="869.1" x2="1728.2" y2="879.1" stroke="#cda23a" stroke-width="1.2"/>
<text x="0.5" y="1148.0" font-size="49.5" font-weight="bold">e</text>
<text x="318.6" y="1184.6" font-size="26.5" text-anchor="middle" textLength="53.6" lengthAdjust="spacingAndGlyphs">T-eff</text>
<line x1="154.6" y1="1186.0" x2="154.6" y2="1619.0" stroke="#000" stroke-width="1.9"/>
<line x1="153.7" y1="1618.1" x2="460.3" y2="1618.1" stroke="#000" stroke-width="1.9"/>
<line x1="149.6" y1="1597.8" x2="154.6" y2="1597.8" stroke="#000" stroke-width="1.8"/>
<text x="144.6" y="1604.9" font-size="25.6" text-anchor="end">0.00</text>
<line x1="149.6" y1="1499.5" x2="154.6" y2="1499.5" stroke="#000" stroke-width="1.8"/>
<text x="144.6" y="1506.6" font-size="25.6" text-anchor="end">0.25</text>
<line x1="149.6" y1="1401.2" x2="154.6" y2="1401.2" stroke="#000" stroke-width="1.8"/>
<text x="144.6" y="1408.3" font-size="25.6" text-anchor="end">0.50</text>
<line x1="149.6" y1="1302.9" x2="154.6" y2="1302.9" stroke="#000" stroke-width="1.8"/>
<text x="144.6" y="1310.0" font-size="25.6" text-anchor="end">0.75</text>
<line x1="149.6" y1="1204.6" x2="154.6" y2="1204.6" stroke="#000" stroke-width="1.8"/>
<text x="144.6" y="1211.7" font-size="25.6" text-anchor="end">1.00</text>
<text font-size="31" text-anchor="middle" textLength="236.5" lengthAdjust="spacingAndGlyphs" transform="translate(56.0 1376.7) rotate(-90)">Probability of PFS</text>
<line x1="168.1" y1="1618.1" x2="168.1" y2="1623.1" stroke="#000" stroke-width="1.8"/>
<text x="168.7" y="1646.9" font-size="25.5" text-anchor="middle">0</text>
<line x1="224.0" y1="1618.1" x2="224.0" y2="1623.1" stroke="#000" stroke-width="1.8"/>
<text x="224.6" y="1646.9" font-size="25.5" text-anchor="middle">6</text>
<line x1="279.9" y1="1618.1" x2="279.9" y2="1623.1" stroke="#000" stroke-width="1.8"/>
<text x="280.5" y="1646.9" font-size="25.5" text-anchor="middle">12</text>
<line x1="335.9" y1="1618.1" x2="335.9" y2="1623.1" stroke="#000" stroke-width="1.8"/>
<text x="336.5" y="1646.9" font-size="25.5" text-anchor="middle">18</text>
<line x1="391.8" y1="1618.1" x2="391.8" y2="1623.1" stroke="#000" stroke-width="1.8"/>
<text x="392.4" y="1646.9" font-size="25.5" text-anchor="middle">24</text>
<line x1="447.7" y1="1618.1" x2="447.7" y2="1623.1" stroke="#000" stroke-width="1.8"/>
<text x="448.3" y="1646.9" font-size="25.5" text-anchor="middle">30</text>
<text x="154.6" y="1665.6" font-size="22" textLength="144.5" lengthAdjust="spacingAndGlyphs">Number at risk</text>
<line x1="154.6" y1="1679.6" x2="154.6" y2="1763.8" stroke="#000" stroke-width="1.9"/>
<line x1="153.7" y1="1762.9" x2="460.3" y2="1762.9" stroke="#000" stroke-width="1.9"/>
<line x1="149.9" y1="1691.1" x2="154.6" y2="1691.1" stroke="#000" stroke-width="1.8"/>
<text x="42.6" y="1698.9" font-size="25.5" textLength="93.0" lengthAdjust="spacingAndGlyphs">T+A low</text>
<line x1="16.0" y1="1692.3" x2="27.0" y2="1692.3" stroke="#1f4e6d" stroke-width="3"/>
<line x1="27.0" y1="1687.6" x2="27.0" y2="1696.6" stroke="#1f4e6d" stroke-width="1.3"/>
<text x="172.1" y="1697.6" font-size="25.5" text-anchor="middle">30</text>
<text x="228.0" y="1697.6" font-size="25.5" text-anchor="middle">12</text>
<text x="281.9" y="1697.6" font-size="25.5" text-anchor="middle">9</text>
<text x="337.9" y="1697.6" font-size="25.5" text-anchor="middle">6</text>
<text x="393.8" y="1697.6" font-size="25.5" text-anchor="middle">3</text>
<text x="449.7" y="1697.6" font-size="25.5" text-anchor="middle">2</text>
<line x1="149.9" y1="1711.1" x2="154.6" y2="1711.1" stroke="#000" stroke-width="1.8"/>
<text x="42.6" y="1716.0" font-size="25.5" textLength="93.0" lengthAdjust="spacingAndGlyphs">P+A low</text>
<line x1="16.0" y1="1709.3" x2="27.0" y2="1709.3" stroke="#cda23a" stroke-width="3"/>
<line x1="27.0" y1="1704.6" x2="27.0" y2="1713.6" stroke="#cda23a" stroke-width="1.3"/>
<text x="172.1" y="1717.6" font-size="25.5" text-anchor="middle">22</text>
<text x="226.0" y="1717.6" font-size="25.5" text-anchor="middle">6</text>
<text x="281.9" y="1717.6" font-size="25.5" text-anchor="middle">4</text>
<text x="337.9" y="1717.6" font-size="25.5" text-anchor="middle">2</text>
<text x="393.8" y="1717.6" font-size="25.5" text-anchor="middle">1</text>
<text x="449.7" y="1717.6" font-size="25.5" text-anchor="middle">0</text>
<line x1="149.9" y1="1731.1" x2="154.6" y2="1731.1" stroke="#000" stroke-width="1.8"/>
<text x="42.6" y="1736.0" font-size="25.5" textLength="103.5" lengthAdjust="spacingAndGlyphs">T+A high</text>
<line x1="16.0" y1="1729.6" x2="38.0" y2="1729.6" stroke="#1f4e6d" stroke-width="3"/>
<line x1="27.0" y1="1724.6" x2="27.0" y2="1734.6" stroke="#1f4e6d" stroke-width="1.3"/>
<text x="172.1" y="1737.6" font-size="25.5" text-anchor="middle">23</text>
<text x="228.0" y="1737.6" font-size="25.5" text-anchor="middle">15</text>
<text x="283.9" y="1737.6" font-size="25.5" text-anchor="middle">11</text>
<text x="339.9" y="1737.6" font-size="25.5" text-anchor="middle">10</text>
<text x="393.8" y="1737.6" font-size="25.5" text-anchor="middle">8</text>
<text x="449.7" y="1737.6" font-size="25.5" text-anchor="middle">6</text>
<line x1="149.9" y1="1750.5" x2="154.6" y2="1750.5" stroke="#000" stroke-width="1.8"/>
<text x="42.6" y="1755.4" font-size="25.5" textLength="103.5" lengthAdjust="spacingAndGlyphs">P+A high</text>
<line x1="16.0" y1="1747.2" x2="38.0" y2="1747.2" stroke="#cda23a" stroke-width="3"/>
<line x1="27.0" y1="1742.2" x2="27.0" y2="1752.2" stroke="#cda23a" stroke-width="1.3"/>
<text x="172.1" y="1757.0" font-size="25.5" text-anchor="middle">30</text>
<text x="228.0" y="1757.0" font-size="25.5" text-anchor="middle">14</text>
<text x="283.9" y="1757.0" font-size="25.5" text-anchor="middle">10</text>
<text x="337.9" y="1757.0" font-size="25.5" text-anchor="middle">7</text>
<text x="393.8" y="1757.0" font-size="25.5" text-anchor="middle">3</text>
<text x="449.7" y="1757.0" font-size="25.5" text-anchor="middle">2</text>
<line x1="168.1" y1="1762.9" x2="168.1" y2="1767.9" stroke="#000" stroke-width="1.8"/>
<text x="168.7" y="1789.9" font-size="25.5" text-anchor="middle">0</text>
<line x1="224.0" y1="1762.9" x2="224.0" y2="1767.9" stroke="#000" stroke-width="1.8"/>
<text x="224.6" y="1789.9" font-size="25.5" text-anchor="middle">6</text>
<line x1="279.9" y1="1762.9" x2="279.9" y2="1767.9" stroke="#000" stroke-width="1.8"/>
<text x="280.5" y="1789.9" font-size="25.5" text-anchor="middle">12</text>
<line x1="335.9" y1="1762.9" x2="335.9" y2="1767.9" stroke="#000" stroke-width="1.8"/>
<text x="336.5" y="1789.9" font-size="25.5" text-anchor="middle">18</text>
<line x1="391.8" y1="1762.9" x2="391.8" y2="1767.9" stroke="#000" stroke-width="1.8"/>
<text x="392.4" y="1789.9" font-size="25.5" text-anchor="middle">24</text>
<line x1="447.7" y1="1762.9" x2="447.7" y2="1767.9" stroke="#000" stroke-width="1.8"/>
<text x="448.3" y="1789.9" font-size="25.5" text-anchor="middle">30</text>
<text x="158.1" y="1814.5" font-size="26" textLength="360.0" lengthAdjust="spacingAndGlyphs">Time since treatment start (mo)</text>
<line x1="206.1" y1="1597.8" x2="206.1" y2="1402.9" stroke="#111" stroke-width="2.4" stroke-dasharray="8 6"/>
<line x1="210.8" y1="1597.8" x2="210.8" y2="1402.9" stroke="#111" stroke-width="2.4" stroke-dasharray="8 6"/>
<line x1="217.6" y1="1597.8" x2="217.6" y2="1402.9" stroke="#111" stroke-width="2.4" stroke-dasharray="8 6"/>
<line x1="284.1" y1="1597.8" x2="284.1" y2="1397.8" stroke="#111" stroke-width="2.4" stroke-dasharray="8 6"/>
<path d="M169.5 1204.6H174.6V1231.7H179.7V1284.2H181.4V1309.7H189.8V1323.9H203.4V1363.9H206.8V1389.3H211.9V1402.9H217.6V1441.2H262.7V1479.2H284.7V1482.5H292.2V1493.4H320.3V1506.3H327.1V1519.8H344.1V1532.7H346.4V1545.3H374.6V1559.2H416.3V1572.4H478.0" fill="none" stroke="#1f4e6d" stroke-width="3.5" stroke-dasharray="12 11" stroke-linejoin="miter"/>
<path d="M169.5 1204.6H175.6V1231.7H179.7V1330.0H193.2V1346.9H203.4V1379.2H207.5V1455.4H210.8V1482.5H227.1V1502.9H232.2V1521.5H300.0V1541.2H318.6V1559.8H381.4V1579.2H416.9V1597.8" fill="none" stroke="#cda23a" stroke-width="3.5" stroke-dasharray="12 11" stroke-linejoin="miter"/>
<path d="M169.5 1204.6H179.7V1274.1H205.8V1308.0H207.5V1324.9H218.6V1342.9H250.8V1360.5H264.4V1380.2H266.8V1397.8H284.1V1415.8H342.4V1433.4H345.1V1451.4H392.2V1469.7H450.2V1513.1H458.3" fill="none" stroke="#1f4e6d" stroke-width="3.5" stroke-linejoin="miter"/>
<path d="M169.5 1204.6H176.3V1231.7H179.0V1284.2H194.2V1311.4H196.6V1323.9H200.0V1350.3H204.1V1363.9H206.1V1389.3H213.6V1401.9H221.0V1414.7H231.5V1454.7H254.9V1467.3H282.0V1494.4H301.7V1506.3H340.7V1519.2H360.3V1545.3H385.4V1558.8H480.7" fill="none" stroke="#cda23a" stroke-width="3.5" stroke-linejoin="miter"/>
<line x1="223.7" y1="1337.9" x2="223.7" y2="1347.9" stroke="#1f4e6d" stroke-width="1.2"/>
<line x1="441.7" y1="1464.7" x2="441.7" y2="1474.7" stroke="#1f4e6d" stroke-width="1.2"/>
<line x1="454.2" y1="1508.1" x2="454.2" y2="1518.1" stroke="#1f4e6d" stroke-width="1.2"/>
<line x1="458.3" y1="1508.1" x2="458.3" y2="1518.1" stroke="#1f4e6d" stroke-width="1.2"/>
<line x1="456.6" y1="1566.7" x2="456.6" y2="1576.7" stroke="#1f4e6d" stroke-width="1.2"/>
<line x1="478.0" y1="1566.7" x2="478.0" y2="1576.7" stroke="#1f4e6d" stroke-width="1.2"/>
<line x1="433.2" y1="1553.8" x2="433.2" y2="1563.8" stroke="#cda23a" stroke-width="1.2"/>
<line x1="480.7" y1="1553.8" x2="480.7" y2="1563.8" stroke="#cda23a" stroke-width="1.2"/>
<text x="575.5" y="1148.0" font-size="49.5" font-weight="bold">f</text>
<text x="790.0" y="1179.3" font-size="26" textLength="412.2" lengthAdjust="spacingAndGlyphs">OAK 22C3+ Atezo arm PFS (TAMs)</text>
<line x1="789.6" y1="1185.2" x2="789.6" y2="1626.1" stroke="#000" stroke-width="2.7"/>
<line x1="788.2" y1="1624.8" x2="1195.7" y2="1624.8" stroke="#000" stroke-width="2.7"/>
<line x1="784.3" y1="1604.7" x2="789.6" y2="1604.7" stroke="#000" stroke-width="2.2"/>
<text x="781.1" y="1614.0" font-size="25.5" text-anchor="end">0.00</text>
<line x1="784.3" y1="1504.8" x2="789.6" y2="1504.8" stroke="#000" stroke-width="2.2"/>
<text x="781.1" y="1514.1" font-size="25.5" text-anchor="end">0.25</text>
<line x1="784.3" y1="1405.0" x2="789.6" y2="1405.0" stroke="#000" stroke-width="2.2"/>
<text x="781.1" y="1414.2" font-size="25.5" text-anchor="end">0.50</text>
<line x1="784.3" y1="1305.1" x2="789.6" y2="1305.1" stroke="#000" stroke-width="2.2"/>
<text x="781.1" y="1314.4" font-size="25.5" text-anchor="end">0.75</text>
<line x1="784.3" y1="1205.2" x2="789.6" y2="1205.2" stroke="#000" stroke-width="2.2"/>
<text x="781.1" y="1214.5" font-size="25.5" text-anchor="end">1.00</text>
<text font-size="30" text-anchor="middle" textLength="236.0" lengthAdjust="spacingAndGlyphs" transform="translate(705.6 1378.5) rotate(-90)">Probability of PFS</text>
<line x1="807.8" y1="1624.8" x2="807.8" y2="1630.3" stroke="#000" stroke-width="1.8"/>
<text x="807.5" y="1651.8" font-size="25.5" text-anchor="middle">0</text>
<line x1="844.8" y1="1624.8" x2="844.8" y2="1630.3" stroke="#000" stroke-width="1.8"/>
<text x="844.5" y="1651.8" font-size="25.5" text-anchor="middle">3</text>
<line x1="881.9" y1="1624.8" x2="881.9" y2="1630.3" stroke="#000" stroke-width="1.8"/>
<text x="881.6" y="1651.8" font-size="25.5" text-anchor="middle">6</text>
<line x1="918.9" y1="1624.8" x2="918.9" y2="1630.3" stroke="#000" stroke-width="1.8"/>
<text x="918.6" y="1651.8" font-size="25.5" text-anchor="middle">9</text>
<line x1="956.0" y1="1624.8" x2="956.0" y2="1630.3" stroke="#000" stroke-width="1.8"/>
<text x="958.0" y="1651.8" font-size="25.5" text-anchor="middle">12</text>
<line x1="993.0" y1="1624.8" x2="993.0" y2="1630.3" stroke="#000" stroke-width="1.8"/>
<text x="995.0" y="1651.8" font-size="25.5" text-anchor="middle">15</text>
<line x1="1030.1" y1="1624.8" x2="1030.1" y2="1630.3" stroke="#000" stroke-width="1.8"/>
<text x="1032.1" y="1651.8" font-size="25.5" text-anchor="middle">18</text>
<line x1="1067.1" y1="1624.8" x2="1067.1" y2="1630.3" stroke="#000" stroke-width="1.8"/>
<text x="1069.1" y="1651.8" font-size="25.5" text-anchor="middle">21</text>
<line x1="1104.2" y1="1624.8" x2="1104.2" y2="1630.3" stroke="#000" stroke-width="1.8"/>
<text x="1106.2" y="1651.8" font-size="25.5" text-anchor="middle">24</text>
<line x1="1141.2" y1="1624.8" x2="1141.2" y2="1630.3" stroke="#000" stroke-width="1.8"/>
<text x="1143.2" y="1651.8" font-size="25.5" text-anchor="middle">27</text>
<line x1="1178.3" y1="1624.8" x2="1178.3" y2="1630.3" stroke="#000" stroke-width="1.8"/>
<text x="1180.3" y="1651.8" font-size="25.5" text-anchor="middle">30</text>
<text x="786.4" y="1671.7" font-size="22" textLength="144.5" lengthAdjust="spacingAndGlyphs">Number at risk</text>
<text x="867.0" y="1258.9" font-size="25.5" textLength="227.0" lengthAdjust="spacingAndGlyphs">Logrank P = 0.5099</text>
<text x="867.0" y="1286.9" font-size="25.5" textLength="301.5" lengthAdjust="spacingAndGlyphs">HR = 0.863 (0.556−1.338)</text>
<path d="M867.0 1315.4H875.5M884.0 1315.4H886.3" stroke="#1f4e6d" stroke-width="2.8" fill="none"/>
<line x1="876.7" y1="1310.4" x2="876.7" y2="1320.4" stroke="#1f4e6d" stroke-width="1.3"/>
<line x1="867.0" y1="1339.0" x2="886.5" y2="1339.0" stroke="#1f4e6d" stroke-width="2.8"/>
<line x1="876.7" y1="1334.0" x2="876.7" y2="1344.0" stroke="#1f4e6d" stroke-width="1.3"/>
<text x="896.3" y="1321.4" font-size="26" textLength="101.0" lengthAdjust="spacingAndGlyphs">&lt;Median</text>
<text x="896.3" y="1345.0" font-size="26" textLength="116.5" lengthAdjust="spacingAndGlyphs">&gt;=Median</text>
<line x1="789.6" y1="1679.0" x2="789.6" y2="1761.5" stroke="#000" stroke-width="1.6"/>
<line x1="788.8" y1="1760.7" x2="1195.7" y2="1760.7" stroke="#000" stroke-width="1.6"/>
<line x1="785.1" y1="1700.3" x2="789.6" y2="1700.3" stroke="#000" stroke-width="1.3"/>
<text x="781.6" y="1707.3" font-size="26" text-anchor="end" fill="#274d65" textLength="100.5" lengthAdjust="spacingAndGlyphs">&lt;Median</text>
<text x="811.8" y="1707.8" font-size="25" text-anchor="middle">44</text>
<text x="848.8" y="1707.8" font-size="25" text-anchor="middle">20</text>
<text x="885.9" y="1707.8" font-size="25" text-anchor="middle">14</text>
<text x="920.4" y="1707.8" font-size="25" text-anchor="middle">9</text>
<text x="957.5" y="1707.8" font-size="25" text-anchor="middle">7</text>
<text x="994.5" y="1707.8" font-size="25" text-anchor="middle">5</text>
<text x="1031.6" y="1707.8" font-size="25" text-anchor="middle">5</text>
<text x="1068.6" y="1707.8" font-size="25" text-anchor="middle">3</text>
<text x="1105.7" y="1707.8" font-size="25" text-anchor="middle">2</text>
<text x="1142.8" y="1707.8" font-size="25" text-anchor="middle">0</text>
<text x="1179.8" y="1707.8" font-size="25" text-anchor="middle">0</text>
<line x1="785.1" y1="1738.4" x2="789.6" y2="1738.4" stroke="#000" stroke-width="1.3"/>
<text x="781.6" y="1745.4" font-size="26" text-anchor="end" fill="#274d65" textLength="117.0" lengthAdjust="spacingAndGlyphs">&gt;=Median</text>
<text x="811.8" y="1745.9" font-size="25" text-anchor="middle">51</text>
<text x="848.8" y="1745.9" font-size="25" text-anchor="middle">25</text>
<text x="885.9" y="1745.9" font-size="25" text-anchor="middle">18</text>
<text x="922.9" y="1745.9" font-size="25" text-anchor="middle">10</text>
<text x="957.5" y="1745.9" font-size="25" text-anchor="middle">9</text>
<text x="994.5" y="1745.9" font-size="25" text-anchor="middle">8</text>
<text x="1031.6" y="1745.9" font-size="25" text-anchor="middle">8</text>
<text x="1068.6" y="1745.9" font-size="25" text-anchor="middle">5</text>
<text x="1105.7" y="1745.9" font-size="25" text-anchor="middle">4</text>
<text x="1142.8" y="1745.9" font-size="25" text-anchor="middle">2</text>
<text x="1179.8" y="1745.9" font-size="25" text-anchor="middle">0</text>
<line x1="807.8" y1="1760.7" x2="807.8" y2="1765.7" stroke="#000" stroke-width="1.3"/>
<text x="807.5" y="1788.7" font-size="25.5" text-anchor="middle">0</text>
<line x1="844.8" y1="1760.7" x2="844.8" y2="1765.7" stroke="#000" stroke-width="1.3"/>
<text x="844.5" y="1788.7" font-size="25.5" text-anchor="middle">3</text>
<line x1="881.9" y1="1760.7" x2="881.9" y2="1765.7" stroke="#000" stroke-width="1.3"/>
<text x="881.6" y="1788.7" font-size="25.5" text-anchor="middle">6</text>
<line x1="918.9" y1="1760.7" x2="918.9" y2="1765.7" stroke="#000" stroke-width="1.3"/>
<text x="918.6" y="1788.7" font-size="25.5" text-anchor="middle">9</text>
<line x1="956.0" y1="1760.7" x2="956.0" y2="1765.7" stroke="#000" stroke-width="1.3"/>
<text x="958.0" y="1788.7" font-size="25.5" text-anchor="middle">12</text>
<line x1="993.0" y1="1760.7" x2="993.0" y2="1765.7" stroke="#000" stroke-width="1.3"/>
<text x="995.0" y="1788.7" font-size="25.5" text-anchor="middle">15</text>
<line x1="1030.1" y1="1760.7" x2="1030.1" y2="1765.7" stroke="#000" stroke-width="1.3"/>
<text x="1032.1" y="1788.7" font-size="25.5" text-anchor="middle">18</text>
<line x1="1067.1" y1="1760.7" x2="1067.1" y2="1765.7" stroke="#000" stroke-width="1.3"/>
<text x="1069.1" y="1788.7" font-size="25.5" text-anchor="middle">21</text>
<line x1="1104.2" y1="1760.7" x2="1104.2" y2="1765.7" stroke="#000" stroke-width="1.3"/>
<text x="1106.2" y="1788.7" font-size="25.5" text-anchor="middle">24</text>
<line x1="1141.2" y1="1760.7" x2="1141.2" y2="1765.7" stroke="#000" stroke-width="1.3"/>
<text x="1143.2" y="1788.7" font-size="25.5" text-anchor="middle">27</text>
<line x1="1178.3" y1="1760.7" x2="1178.3" y2="1765.7" stroke="#000" stroke-width="1.3"/>
<text x="1180.3" y="1788.7" font-size="25.5" text-anchor="middle">30</text>
<text x="794.4" y="1813.2" font-size="26" textLength="361.0" lengthAdjust="spacingAndGlyphs">Time since treatment start (mo)</text>
<line x1="842.3" y1="1604.7" x2="842.3" y2="1404.9" stroke="#111" stroke-width="3.2" stroke-dasharray="12 16"/>
<line x1="847.8" y1="1604.7" x2="847.8" y2="1404.9" stroke="#111" stroke-width="3.2" stroke-dasharray="12 16"/>
<path d="M807.8 1205.2H811.4V1217.2H814.3V1229.9H817.2V1239.0H821.6V1253.5H823.8V1300.7H825.2V1347.9H827.0V1362.4H830.7V1377.0H833.6V1397.0H843.4V1422.4H847.0V1431.5H857.9V1458.7H859.7V1468.9H872.4V1477.6H881.5V1484.1H894.2V1487.8H903.3V1495.0H910.6V1520.4H926.9V1523.0H936.0V1532.1H959.6V1542.2H972.3V1552.4H1040.6V1563.3H1117.6" fill="none" stroke="#1f4e6d" stroke-width="3.5" stroke-dasharray="9 7" stroke-linejoin="miter"/>
<path d="M807.8 1205.2H812.5V1215.4H815.1V1227.3H818.0V1237.1H823.4V1253.5H825.2V1297.1H826.3V1344.3H828.1V1359.5H839.0V1367.9H841.6V1391.5H844.5V1400.6H847.0V1408.9H857.2V1418.7H859.7V1426.0H867.0V1433.3H870.6V1447.8H873.2V1458.0H881.5V1466.0H888.8V1476.9H892.4V1487.8H897.1V1500.5H905.1V1507.7H910.6V1517.9H937.1V1526.6H986.9V1535.7H1040.6V1544.0H1145.9V1573.8H1172.1" fill="none" stroke="#1f4e6d" stroke-width="3.5" stroke-linejoin="miter"/>
<line x1="1059.5" y1="1539.0" x2="1059.5" y2="1549.0" stroke="#1f4e6d" stroke-width="1.2"/>
<line x1="1064.2" y1="1539.0" x2="1064.2" y2="1549.0" stroke="#1f4e6d" stroke-width="1.2"/>
<line x1="1089.3" y1="1539.0" x2="1089.3" y2="1549.0" stroke="#1f4e6d" stroke-width="1.2"/>
<line x1="1126.0" y1="1539.0" x2="1126.0" y2="1549.0" stroke="#1f4e6d" stroke-width="1.2"/>
<line x1="1130.3" y1="1539.0" x2="1130.3" y2="1549.0" stroke="#1f4e6d" stroke-width="1.2"/>
<line x1="1172.1" y1="1568.8" x2="1172.1" y2="1578.8" stroke="#1f4e6d" stroke-width="1.2"/>
<line x1="807.8" y1="1200.2" x2="807.8" y2="1210.2" stroke="#1f4e6d" stroke-width="1.2"/>
<line x1="917.8" y1="1515.4" x2="917.8" y2="1525.4" stroke="#1f4e6d" stroke-width="1.2"/>
<line x1="940.7" y1="1527.1" x2="940.7" y2="1537.1" stroke="#1f4e6d" stroke-width="1.2"/>
<line x1="1043.2" y1="1558.3" x2="1043.2" y2="1568.3" stroke="#1f4e6d" stroke-width="1.2"/>
<line x1="1082.4" y1="1558.3" x2="1082.4" y2="1568.3" stroke="#1f4e6d" stroke-width="1.2"/>
<line x1="1113.3" y1="1558.3" x2="1113.3" y2="1568.3" stroke="#1f4e6d" stroke-width="1.2"/>
<line x1="1117.6" y1="1558.3" x2="1117.6" y2="1568.3" stroke="#1f4e6d" stroke-width="1.2"/>
<text x="1229.5" y="1148.0" font-size="49.5" font-weight="bold">g</text>
<text x="1404.5" y="1179.3" font-size="26" textLength="400.2" lengthAdjust="spacingAndGlyphs">OAK 22C3+ Atezo arm OS (TAMs)</text>
<line x1="1404.5" y1="1185.2" x2="1404.5" y2="1626.1" stroke="#000" stroke-width="2.7"/>
<line x1="1403.2" y1="1624.8" x2="1811.2" y2="1624.8" stroke="#000" stroke-width="2.7"/>
<line x1="1399.2" y1="1604.7" x2="1404.5" y2="1604.7" stroke="#000" stroke-width="2.2"/>
<text x="1396.0" y="1614.0" font-size="25.5" text-anchor="end">0.00</text>
<line x1="1399.2" y1="1504.8" x2="1404.5" y2="1504.8" stroke="#000" stroke-width="2.2"/>
<text x="1396.0" y="1514.1" font-size="25.5" text-anchor="end">0.25</text>
<line x1="1399.2" y1="1405.0" x2="1404.5" y2="1405.0" stroke="#000" stroke-width="2.2"/>
<text x="1396.0" y="1414.2" font-size="25.5" text-anchor="end">0.50</text>
<line x1="1399.2" y1="1305.1" x2="1404.5" y2="1305.1" stroke="#000" stroke-width="2.2"/>
<text x="1396.0" y="1314.4" font-size="25.5" text-anchor="end">0.75</text>
<line x1="1399.2" y1="1205.2" x2="1404.5" y2="1205.2" stroke="#000" stroke-width="2.2"/>
<text x="1396.0" y="1214.5" font-size="25.5" text-anchor="end">1.00</text>
<text font-size="30" text-anchor="middle" textLength="220.0" lengthAdjust="spacingAndGlyphs" transform="translate(1321.1 1382.7) rotate(-90)">Probability of OS</text>
<line x1="1422.8" y1="1624.8" x2="1422.8" y2="1630.3" stroke="#000" stroke-width="1.8"/>
<text x="1422.5" y="1651.8" font-size="25.5" text-anchor="middle">0</text>
<line x1="1459.8" y1="1624.8" x2="1459.8" y2="1630.3" stroke="#000" stroke-width="1.8"/>
<text x="1459.5" y="1651.8" font-size="25.5" text-anchor="middle">3</text>
<line x1="1496.9" y1="1624.8" x2="1496.9" y2="1630.3" stroke="#000" stroke-width="1.8"/>
<text x="1496.6" y="1651.8" font-size="25.5" text-anchor="middle">6</text>
<line x1="1534.0" y1="1624.8" x2="1534.0" y2="1630.3" stroke="#000" stroke-width="1.8"/>
<text x="1533.7" y="1651.8" font-size="25.5" text-anchor="middle">9</text>
<line x1="1571.0" y1="1624.8" x2="1571.0" y2="1630.3" stroke="#000" stroke-width="1.8"/>
<text x="1573.0" y="1651.8" font-size="25.5" text-anchor="middle">12</text>
<line x1="1608.0" y1="1624.8" x2="1608.0" y2="1630.3" stroke="#000" stroke-width="1.8"/>
<text x="1610.0" y="1651.8" font-size="25.5" text-anchor="middle">15</text>
<line x1="1645.1" y1="1624.8" x2="1645.1" y2="1630.3" stroke="#000" stroke-width="1.8"/>
<text x="1647.1" y="1651.8" font-size="25.5" text-anchor="middle">18</text>
<line x1="1682.1" y1="1624.8" x2="1682.1" y2="1630.3" stroke="#000" stroke-width="1.8"/>
<text x="1684.1" y="1651.8" font-size="25.5" text-anchor="middle">21</text>
<line x1="1719.2" y1="1624.8" x2="1719.2" y2="1630.3" stroke="#000" stroke-width="1.8"/>
<text x="1721.2" y="1651.8" font-size="25.5" text-anchor="middle">24</text>
<line x1="1756.2" y1="1624.8" x2="1756.2" y2="1630.3" stroke="#000" stroke-width="1.8"/>
<text x="1758.2" y="1651.8" font-size="25.5" text-anchor="middle">27</text>
<line x1="1793.3" y1="1624.8" x2="1793.3" y2="1630.3" stroke="#000" stroke-width="1.8"/>
<text x="1795.3" y="1651.8" font-size="25.5" text-anchor="middle">30</text>
<text x="1401.3" y="1671.7" font-size="22" textLength="144.5" lengthAdjust="spacingAndGlyphs">Number at risk</text>
<text x="1557.0" y="1258.9" font-size="25.5" textLength="226.0" lengthAdjust="spacingAndGlyphs">Logrank P = 0.2124</text>
<text x="1557.0" y="1286.9" font-size="25.5" textLength="299.6" lengthAdjust="spacingAndGlyphs">HR = 0.725 (0.437−1.203)</text>
<path d="M1557.0 1313.6H1565.5M1574.0 1313.6H1576.3" stroke="#1f4e6d" stroke-width="2.8" fill="none"/>
<line x1="1566.7" y1="1308.6" x2="1566.7" y2="1318.6" stroke="#1f4e6d" stroke-width="1.3"/>
<line x1="1557.0" y1="1338.3" x2="1576.5" y2="1338.3" stroke="#1f4e6d" stroke-width="2.8"/>
<line x1="1566.7" y1="1333.3" x2="1566.7" y2="1343.3" stroke="#1f4e6d" stroke-width="1.3"/>
<text x="1586.3" y="1319.6" font-size="26" textLength="101.0" lengthAdjust="spacingAndGlyphs">&lt;Median</text>
<text x="1586.3" y="1344.3" font-size="26" textLength="116.5" lengthAdjust="spacingAndGlyphs">&gt;=Median</text>
<line x1="1404.5" y1="1680.0" x2="1404.5" y2="1762.5" stroke="#000" stroke-width="1.6"/>
<line x1="1403.7" y1="1761.7" x2="1811.2" y2="1761.7" stroke="#000" stroke-width="1.6"/>
<line x1="1400.0" y1="1701.3" x2="1404.5" y2="1701.3" stroke="#000" stroke-width="1.3"/>
<text x="1396.5" y="1708.3" font-size="26" text-anchor="end" fill="#274d65" textLength="100.5" lengthAdjust="spacingAndGlyphs">&lt;Median</text>
<text x="1426.8" y="1708.8" font-size="25" text-anchor="middle">44</text>
<text x="1463.8" y="1708.8" font-size="25" text-anchor="middle">37</text>
<text x="1500.9" y="1708.8" font-size="25" text-anchor="middle">29</text>
<text x="1538.0" y="1708.8" font-size="25" text-anchor="middle">25</text>
<text x="1575.0" y="1708.8" font-size="25" text-anchor="middle">22</text>
<text x="1612.0" y="1708.8" font-size="25" text-anchor="middle">18</text>
<text x="1649.1" y="1708.8" font-size="25" text-anchor="middle">15</text>
<text x="1686.1" y="1708.8" font-size="25" text-anchor="middle">12</text>
<text x="1720.7" y="1708.8" font-size="25" text-anchor="middle">5</text>
<text x="1757.8" y="1708.8" font-size="25" text-anchor="middle">2</text>
<text x="1794.8" y="1708.8" font-size="25" text-anchor="middle">1</text>
<line x1="1400.0" y1="1739.4" x2="1404.5" y2="1739.4" stroke="#000" stroke-width="1.3"/>
<text x="1396.5" y="1746.4" font-size="26" text-anchor="end" fill="#274d65" textLength="117.0" lengthAdjust="spacingAndGlyphs">&gt;=Median</text>
<text x="1426.8" y="1746.9" font-size="25" text-anchor="middle">51</text>
<text x="1463.8" y="1746.9" font-size="25" text-anchor="middle">41</text>
<text x="1500.9" y="1746.9" font-size="25" text-anchor="middle">32</text>
<text x="1538.0" y="1746.9" font-size="25" text-anchor="middle">25</text>
<text x="1575.0" y="1746.9" font-size="25" text-anchor="middle">23</text>
<text x="1612.0" y="1746.9" font-size="25" text-anchor="middle">21</text>
<text x="1649.1" y="1746.9" font-size="25" text-anchor="middle">19</text>
<text x="1686.1" y="1746.9" font-size="25" text-anchor="middle">17</text>
<text x="1723.2" y="1746.9" font-size="25" text-anchor="middle">10</text>
<text x="1757.8" y="1746.9" font-size="25" text-anchor="middle">7</text>
<text x="1794.8" y="1746.9" font-size="25" text-anchor="middle">4</text>
<line x1="1422.8" y1="1761.7" x2="1422.8" y2="1766.7" stroke="#000" stroke-width="1.3"/>
<text x="1422.5" y="1789.7" font-size="25.5" text-anchor="middle">0</text>
<line x1="1459.8" y1="1761.7" x2="1459.8" y2="1766.7" stroke="#000" stroke-width="1.3"/>
<text x="1459.5" y="1789.7" font-size="25.5" text-anchor="middle">3</text>
<line x1="1496.9" y1="1761.7" x2="1496.9" y2="1766.7" stroke="#000" stroke-width="1.3"/>
<text x="1496.6" y="1789.7" font-size="25.5" text-anchor="middle">6</text>
<line x1="1534.0" y1="1761.7" x2="1534.0" y2="1766.7" stroke="#000" stroke-width="1.3"/>
<text x="1533.7" y="1789.7" font-size="25.5" text-anchor="middle">9</text>
<line x1="1571.0" y1="1761.7" x2="1571.0" y2="1766.7" stroke="#000" stroke-width="1.3"/>
<text x="1573.0" y="1789.7" font-size="25.5" text-anchor="middle">12</text>
<line x1="1608.0" y1="1761.7" x2="1608.0" y2="1766.7" stroke="#000" stroke-width="1.3"/>
<text x="1610.0" y="1789.7" font-size="25.5" text-anchor="middle">15</text>
<line x1="1645.1" y1="1761.7" x2="1645.1" y2="1766.7" stroke="#000" stroke-width="1.3"/>
<text x="1647.1" y="1789.7" font-size="25.5" text-anchor="middle">18</text>
<line x1="1682.1" y1="1761.7" x2="1682.1" y2="1766.7" stroke="#000" stroke-width="1.3"/>
<text x="1684.1" y="1789.7" font-size="25.5" text-anchor="middle">21</text>
<line x1="1719.2" y1="1761.7" x2="1719.2" y2="1766.7" stroke="#000" stroke-width="1.3"/>
<text x="1721.2" y="1789.7" font-size="25.5" text-anchor="middle">24</text>
<line x1="1756.2" y1="1761.7" x2="1756.2" y2="1766.7" stroke="#000" stroke-width="1.3"/>
<text x="1758.2" y="1789.7" font-size="25.5" text-anchor="middle">27</text>
<line x1="1793.3" y1="1761.7" x2="1793.3" y2="1766.7" stroke="#000" stroke-width="1.3"/>
<text x="1795.3" y="1789.7" font-size="25.5" text-anchor="middle">30</text>
<text x="1409.3" y="1814.2" font-size="26" textLength="361.0" lengthAdjust="spacingAndGlyphs">Time since treatment start (mo)</text>
<line x1="1582.8" y1="1604.7" x2="1582.8" y2="1398.8" stroke="#111" stroke-width="3.2" stroke-dasharray="12 16"/>
<line x1="1616.9" y1="1604.7" x2="1616.9" y2="1404.9" stroke="#111" stroke-width="3.2" stroke-dasharray="12 16"/>
<path d="M1423.7 1205.2V1210.6H1427.3V1217.2H1431.0V1228.1H1435.3V1237.9H1441.5V1246.2H1448.0V1268.0H1460.8V1273.5H1464.4V1278.2H1478.2V1286.9H1482.6V1295.3H1493.4V1329.0H1498.9V1349.7H1501.4V1359.5H1513.4V1365.4H1529.8V1374.1H1542.5V1393.3H1549.7V1398.8H1582.4V1415.1H1586.1V1426.0H1602.4V1435.1H1611.5V1444.2H1624.2V1453.2H1638.7V1462.3H1649.6V1482.3H1700.5V1505.9H1705.9V1509.5H1775.7V1556.8H1814.9" fill="none" stroke="#1f4e6d" stroke-width="3.5" stroke-dasharray="9 7" stroke-linejoin="miter"/>
<path d="M1423.7 1205.2H1428.1V1213.5H1431.7V1220.8H1443.7V1237.1H1454.6V1246.2H1458.2V1257.1H1460.0V1268.0H1464.4V1278.2H1478.2V1286.9H1480.7V1295.3H1485.5V1322.5H1493.4V1329.0H1503.6V1338.8H1509.8V1347.9H1513.4V1365.4H1526.1V1374.1H1538.8V1383.5H1553.4V1392.6H1607.9V1402.4H1616.9V1411.5H1619.8V1421.7H1655.1V1431.5H1696.8V1441.6H1762.2V1469.6H1818.5" fill="none" stroke="#1f4e6d" stroke-width="3.5" stroke-linejoin="miter"/>
<line x1="1426.3" y1="1200.2" x2="1426.3" y2="1210.2" stroke="#1f4e6d" stroke-width="1.2"/>
<line x1="1571.5" y1="1387.6" x2="1571.5" y2="1397.6" stroke="#1f4e6d" stroke-width="1.2"/>
<line x1="1680.5" y1="1426.5" x2="1680.5" y2="1436.5" stroke="#1f4e6d" stroke-width="1.2"/>
<line x1="1695.0" y1="1426.5" x2="1695.0" y2="1436.5" stroke="#1f4e6d" stroke-width="1.2"/>
<line x1="1702.3" y1="1436.6" x2="1702.3" y2="1446.6" stroke="#1f4e6d" stroke-width="1.2"/>
<line x1="1705.9" y1="1436.6" x2="1705.9" y2="1446.6" stroke="#1f4e6d" stroke-width="1.2"/>
<line x1="1709.6" y1="1436.6" x2="1709.6" y2="1446.6" stroke="#1f4e6d" stroke-width="1.2"/>
<line x1="1742.2" y1="1436.6" x2="1742.2" y2="1446.6" stroke="#1f4e6d" stroke-width="1.2"/>
<line x1="1747.7" y1="1436.6" x2="1747.7" y2="1446.6" stroke="#1f4e6d" stroke-width="1.2"/>
<line x1="1755.7" y1="1436.6" x2="1755.7" y2="1446.6" stroke="#1f4e6d" stroke-width="1.2"/>
<line x1="1782.2" y1="1464.6" x2="1782.2" y2="1474.6" stroke="#1f4e6d" stroke-width="1.2"/>
<line x1="1794.9" y1="1464.6" x2="1794.9" y2="1474.6" stroke="#1f4e6d" stroke-width="1.2"/>
<line x1="1805.8" y1="1464.6" x2="1805.8" y2="1474.6" stroke="#1f4e6d" stroke-width="1.2"/>
<line x1="1809.4" y1="1464.6" x2="1809.4" y2="1474.6" stroke="#1f4e6d" stroke-width="1.2"/>
<line x1="1818.5" y1="1464.6" x2="1818.5" y2="1474.6" stroke="#1f4e6d" stroke-width="1.2"/>
<line x1="1685.9" y1="1477.3" x2="1685.9" y2="1487.3" stroke="#1f4e6d" stroke-width="1.2"/>
<line x1="1689.6" y1="1477.3" x2="1689.6" y2="1487.3" stroke="#1f4e6d" stroke-width="1.2"/>
<line x1="1715.0" y1="1504.5" x2="1715.0" y2="1514.5" stroke="#1f4e6d" stroke-width="1.2"/>
<line x1="1736.8" y1="1504.5" x2="1736.8" y2="1514.5" stroke="#1f4e6d" stroke-width="1.2"/>
<line x1="1742.2" y1="1504.5" x2="1742.2" y2="1514.5" stroke="#1f4e6d" stroke-width="1.2"/>
<line x1="1747.7" y1="1504.5" x2="1747.7" y2="1514.5" stroke="#1f4e6d" stroke-width="1.2"/>
<line x1="1814.9" y1="1551.8" x2="1814.9" y2="1561.8" stroke="#1f4e6d" stroke-width="1.2"/>
<text x="1.5" y="1851.0" font-size="49.5" font-weight="bold">h</text>
<text x="139.0" y="1878.2" font-size="26" textLength="410.2" lengthAdjust="spacingAndGlyphs">OAK 22C3+ Atezo arm PFS (Tregs)</text>
<line x1="138.2" y1="1884.5" x2="138.2" y2="2325.2" stroke="#000" stroke-width="2.7"/>
<line x1="136.8" y1="2323.9" x2="544.8" y2="2323.9" stroke="#000" stroke-width="2.7"/>
<line x1="132.9" y1="2304.0" x2="138.2" y2="2304.0" stroke="#000" stroke-width="2.2"/>
<text x="129.7" y="2313.3" font-size="25.5" text-anchor="end">0.00</text>
<line x1="132.9" y1="2204.1" x2="138.2" y2="2204.1" stroke="#000" stroke-width="2.2"/>
<text x="129.7" y="2213.4" font-size="25.5" text-anchor="end">0.25</text>
<line x1="132.9" y1="2104.2" x2="138.2" y2="2104.2" stroke="#000" stroke-width="2.2"/>
<text x="129.7" y="2113.6" font-size="25.5" text-anchor="end">0.50</text>
<line x1="132.9" y1="2004.4" x2="138.2" y2="2004.4" stroke="#000" stroke-width="2.2"/>
<text x="129.7" y="2013.7" font-size="25.5" text-anchor="end">0.75</text>
<line x1="132.9" y1="1904.5" x2="138.2" y2="1904.5" stroke="#000" stroke-width="2.2"/>
<text x="129.7" y="1913.8" font-size="25.5" text-anchor="end">1.00</text>
<text font-size="30" text-anchor="middle" textLength="236.0" lengthAdjust="spacingAndGlyphs" transform="translate(54.7 2078.5) rotate(-90)">Probability of PFS</text>
<line x1="157.0" y1="2323.9" x2="157.0" y2="2329.4" stroke="#000" stroke-width="1.8"/>
<text x="156.7" y="2350.7" font-size="25.5" text-anchor="middle">0</text>
<line x1="194.1" y1="2323.9" x2="194.1" y2="2329.4" stroke="#000" stroke-width="1.8"/>
<text x="193.8" y="2350.7" font-size="25.5" text-anchor="middle">3</text>
<line x1="231.1" y1="2323.9" x2="231.1" y2="2329.4" stroke="#000" stroke-width="1.8"/>
<text x="230.8" y="2350.7" font-size="25.5" text-anchor="middle">6</text>
<line x1="268.1" y1="2323.9" x2="268.1" y2="2329.4" stroke="#000" stroke-width="1.8"/>
<text x="267.8" y="2350.7" font-size="25.5" text-anchor="middle">9</text>
<line x1="305.2" y1="2323.9" x2="305.2" y2="2329.4" stroke="#000" stroke-width="1.8"/>
<text x="307.2" y="2350.7" font-size="25.5" text-anchor="middle">12</text>
<line x1="342.2" y1="2323.9" x2="342.2" y2="2329.4" stroke="#000" stroke-width="1.8"/>
<text x="344.2" y="2350.7" font-size="25.5" text-anchor="middle">15</text>
<line x1="379.3" y1="2323.9" x2="379.3" y2="2329.4" stroke="#000" stroke-width="1.8"/>
<text x="381.3" y="2350.7" font-size="25.5" text-anchor="middle">18</text>
<line x1="416.3" y1="2323.9" x2="416.3" y2="2329.4" stroke="#000" stroke-width="1.8"/>
<text x="418.3" y="2350.7" font-size="25.5" text-anchor="middle">21</text>
<line x1="453.4" y1="2323.9" x2="453.4" y2="2329.4" stroke="#000" stroke-width="1.8"/>
<text x="455.4" y="2350.7" font-size="25.5" text-anchor="middle">24</text>
<line x1="490.4" y1="2323.9" x2="490.4" y2="2329.4" stroke="#000" stroke-width="1.8"/>
<text x="492.4" y="2350.7" font-size="25.5" text-anchor="middle">27</text>
<line x1="527.5" y1="2323.9" x2="527.5" y2="2329.4" stroke="#000" stroke-width="1.8"/>
<text x="529.5" y="2350.7" font-size="25.5" text-anchor="middle">30</text>
<text x="135.0" y="2370.6" font-size="22" textLength="144.5" lengthAdjust="spacingAndGlyphs">Number at risk</text>
<text x="216.1" y="1957.8" font-size="25.5" textLength="225.2" lengthAdjust="spacingAndGlyphs">Logrank P = 0.3911</text>
<text x="216.1" y="1986.2" font-size="25.5" textLength="301.5" lengthAdjust="spacingAndGlyphs">HR = 0.825 (0.532−1.279)</text>
<path d="M216.1 2014.7H224.6M233.1 2014.7H235.4" stroke="#1f4e6d" stroke-width="2.8" fill="none"/>
<line x1="225.8" y1="2009.7" x2="225.8" y2="2019.7" stroke="#1f4e6d" stroke-width="1.3"/>
<line x1="216.1" y1="2039.0" x2="235.6" y2="2039.0" stroke="#1f4e6d" stroke-width="2.8"/>
<line x1="225.8" y1="2034.0" x2="225.8" y2="2044.0" stroke="#1f4e6d" stroke-width="1.3"/>
<text x="245.4" y="2020.7" font-size="26" textLength="101.0" lengthAdjust="spacingAndGlyphs">&lt;Median</text>
<text x="245.4" y="2045.0" font-size="26" textLength="116.5" lengthAdjust="spacingAndGlyphs">&gt;=Median</text>
<line x1="138.2" y1="2378.3" x2="138.2" y2="2460.8" stroke="#000" stroke-width="1.6"/>
<line x1="137.4" y1="2460.0" x2="544.8" y2="2460.0" stroke="#000" stroke-width="1.6"/>
<line x1="133.7" y1="2399.2" x2="138.2" y2="2399.2" stroke="#000" stroke-width="1.3"/>
<text x="130.2" y="2406.2" font-size="26" text-anchor="end" fill="#274d65" textLength="100.5" lengthAdjust="spacingAndGlyphs">&lt;Median</text>
<text x="161.0" y="2406.7" font-size="25" text-anchor="middle">44</text>
<text x="198.1" y="2406.7" font-size="25" text-anchor="middle">17</text>
<text x="235.1" y="2406.7" font-size="25" text-anchor="middle">12</text>
<text x="269.6" y="2406.7" font-size="25" text-anchor="middle">9</text>
<text x="306.7" y="2406.7" font-size="25" text-anchor="middle">6</text>
<text x="343.8" y="2406.7" font-size="25" text-anchor="middle">4</text>
<text x="380.8" y="2406.7" font-size="25" text-anchor="middle">4</text>
<text x="417.8" y="2406.7" font-size="25" text-anchor="middle">2</text>
<text x="454.9" y="2406.7" font-size="25" text-anchor="middle">1</text>
<text x="491.9" y="2406.7" font-size="25" text-anchor="middle">1</text>
<text x="529.0" y="2406.7" font-size="25" text-anchor="middle">0</text>
<line x1="133.7" y1="2437.4" x2="138.2" y2="2437.4" stroke="#000" stroke-width="1.3"/>
<text x="130.2" y="2444.4" font-size="26" text-anchor="end" fill="#274d65" textLength="117.0" lengthAdjust="spacingAndGlyphs">&gt;=Median</text>
<text x="161.0" y="2444.9" font-size="25" text-anchor="middle">51</text>
<text x="198.1" y="2444.9" font-size="25" text-anchor="middle">28</text>
<text x="235.1" y="2444.9" font-size="25" text-anchor="middle">20</text>
<text x="272.1" y="2444.9" font-size="25" text-anchor="middle">10</text>
<text x="309.2" y="2444.9" font-size="25" text-anchor="middle">10</text>
<text x="343.8" y="2444.9" font-size="25" text-anchor="middle">9</text>
<text x="380.8" y="2444.9" font-size="25" text-anchor="middle">9</text>
<text x="417.8" y="2444.9" font-size="25" text-anchor="middle">6</text>
<text x="454.9" y="2444.9" font-size="25" text-anchor="middle">5</text>
<text x="491.9" y="2444.9" font-size="25" text-anchor="middle">1</text>
<text x="529.0" y="2444.9" font-size="25" text-anchor="middle">0</text>
<line x1="157.0" y1="2460.0" x2="157.0" y2="2465.0" stroke="#000" stroke-width="1.3"/>
<text x="156.7" y="2488.0" font-size="25.5" text-anchor="middle">0</text>
<line x1="194.1" y1="2460.0" x2="194.1" y2="2465.0" stroke="#000" stroke-width="1.3"/>
<text x="193.8" y="2488.0" font-size="25.5" text-anchor="middle">3</text>
<line x1="231.1" y1="2460.0" x2="231.1" y2="2465.0" stroke="#000" stroke-width="1.3"/>
<text x="230.8" y="2488.0" font-size="25.5" text-anchor="middle">6</text>
<line x1="268.1" y1="2460.0" x2="268.1" y2="2465.0" stroke="#000" stroke-width="1.3"/>
<text x="267.8" y="2488.0" font-size="25.5" text-anchor="middle">9</text>
<line x1="305.2" y1="2460.0" x2="305.2" y2="2465.0" stroke="#000" stroke-width="1.3"/>
<text x="307.2" y="2488.0" font-size="25.5" text-anchor="middle">12</text>
<line x1="342.2" y1="2460.0" x2="342.2" y2="2465.0" stroke="#000" stroke-width="1.3"/>
<text x="344.2" y="2488.0" font-size="25.5" text-anchor="middle">15</text>
<line x1="379.3" y1="2460.0" x2="379.3" y2="2465.0" stroke="#000" stroke-width="1.3"/>
<text x="381.3" y="2488.0" font-size="25.5" text-anchor="middle">18</text>
<line x1="416.3" y1="2460.0" x2="416.3" y2="2465.0" stroke="#000" stroke-width="1.3"/>
<text x="418.3" y="2488.0" font-size="25.5" text-anchor="middle">21</text>
<line x1="453.4" y1="2460.0" x2="453.4" y2="2465.0" stroke="#000" stroke-width="1.3"/>
<text x="455.4" y="2488.0" font-size="25.5" text-anchor="middle">24</text>
<line x1="490.4" y1="2460.0" x2="490.4" y2="2465.0" stroke="#000" stroke-width="1.3"/>
<text x="492.4" y="2488.0" font-size="25.5" text-anchor="middle">27</text>
<line x1="527.5" y1="2460.0" x2="527.5" y2="2465.0" stroke="#000" stroke-width="1.3"/>
<text x="529.5" y="2488.0" font-size="25.5" text-anchor="middle">30</text>
<text x="143.0" y="2512.5" font-size="26" textLength="361.0" lengthAdjust="spacingAndGlyphs">Time since treatment start (mo)</text>
<line x1="182.7" y1="2304.0" x2="182.7" y2="2104.2" stroke="#111" stroke-width="3.2" stroke-dasharray="12 16"/>
<line x1="208.1" y1="2304.0" x2="208.1" y2="2104.2" stroke="#111" stroke-width="3.2" stroke-dasharray="12 16"/>
<path d="M157.3 1904.5H160.9V1919.0H164.5V1931.7H167.8V1946.2H171.4V1982.5H173.6V2038.8H175.1V2102.4H179.8V2107.8H183.4V2113.3H188.9V2120.6H191.4V2138.7H196.1V2151.4H208.1V2171.4H214.3V2189.6H259.7V2209.5H285.1V2231.3H308.7V2242.2H321.4V2254.9H390.4V2266.9H521.2" fill="none" stroke="#1f4e6d" stroke-width="3.5" stroke-dasharray="9 7" stroke-linejoin="miter"/>
<path d="M157.3 1904.5H162.7V1917.2H166.3V1928.1H169.6V1942.6H172.9V1986.2H175.1V2029.0H180.5V2037.8H183.4V2045.0H190.0V2069.7H192.5V2084.2H200.8V2092.2H205.9V2100.6H208.1V2116.2H219.7V2138.7H222.6V2146.7H230.6V2154.0H238.6V2162.3H241.5V2175.0H244.4V2187.8H248.8V2193.2H256.1V2204.1H259.7V2218.6H267.7V2225.2H334.9V2233.2H389.7V2241.1H495.8V2304.0" fill="none" stroke="#1f4e6d" stroke-width="3.5" stroke-linejoin="miter"/>
<line x1="157.3" y1="1899.5" x2="157.3" y2="1909.5" stroke="#1f4e6d" stroke-width="1.2"/>
<line x1="408.6" y1="2236.1" x2="408.6" y2="2246.1" stroke="#1f4e6d" stroke-width="1.2"/>
<line x1="413.0" y1="2236.1" x2="413.0" y2="2246.1" stroke="#1f4e6d" stroke-width="1.2"/>
<line x1="438.4" y1="2236.1" x2="438.4" y2="2246.1" stroke="#1f4e6d" stroke-width="1.2"/>
<line x1="463.1" y1="2236.1" x2="463.1" y2="2246.1" stroke="#1f4e6d" stroke-width="1.2"/>
<line x1="468.5" y1="2236.1" x2="468.5" y2="2246.1" stroke="#1f4e6d" stroke-width="1.2"/>
<line x1="475.1" y1="2236.1" x2="475.1" y2="2246.1" stroke="#1f4e6d" stroke-width="1.2"/>
<line x1="479.4" y1="2236.1" x2="479.4" y2="2246.1" stroke="#1f4e6d" stroke-width="1.2"/>
<line x1="236.1" y1="2184.6" x2="236.1" y2="2194.6" stroke="#1f4e6d" stroke-width="1.2"/>
<line x1="259.7" y1="2184.6" x2="259.7" y2="2194.6" stroke="#1f4e6d" stroke-width="1.2"/>
<line x1="288.7" y1="2226.3" x2="288.7" y2="2236.3" stroke="#1f4e6d" stroke-width="1.2"/>
<line x1="392.3" y1="2261.9" x2="392.3" y2="2271.9" stroke="#1f4e6d" stroke-width="1.2"/>
<line x1="432.9" y1="2261.9" x2="432.9" y2="2271.9" stroke="#1f4e6d" stroke-width="1.2"/>
<line x1="521.2" y1="2261.9" x2="521.2" y2="2271.9" stroke="#1f4e6d" stroke-width="1.2"/>
<text x="577.5" y="1851.0" font-size="49.5" font-weight="bold">i</text>
<text x="790.0" y="1881.8" font-size="26" textLength="397.3" lengthAdjust="spacingAndGlyphs">OAK 22C3+ Atezo arm OS (Tregs)</text>
<line x1="789.6" y1="1888.0" x2="789.6" y2="2328.3" stroke="#000" stroke-width="2.7"/>
<line x1="788.2" y1="2327.0" x2="1195.7" y2="2327.0" stroke="#000" stroke-width="2.7"/>
<line x1="784.3" y1="2308.3" x2="789.6" y2="2308.3" stroke="#000" stroke-width="2.2"/>
<text x="781.1" y="2317.6" font-size="25.5" text-anchor="end">0.00</text>
<line x1="784.3" y1="2208.1" x2="789.6" y2="2208.1" stroke="#000" stroke-width="2.2"/>
<text x="781.1" y="2217.4" font-size="25.5" text-anchor="end">0.25</text>
<line x1="784.3" y1="2107.9" x2="789.6" y2="2107.9" stroke="#000" stroke-width="2.2"/>
<text x="781.1" y="2117.2" font-size="25.5" text-anchor="end">0.50</text>
<line x1="784.3" y1="2007.6" x2="789.6" y2="2007.6" stroke="#000" stroke-width="2.2"/>
<text x="781.1" y="2016.9" font-size="25.5" text-anchor="end">0.75</text>
<line x1="784.3" y1="1907.4" x2="789.6" y2="1907.4" stroke="#000" stroke-width="2.2"/>
<text x="781.1" y="1916.7" font-size="25.5" text-anchor="end">1.00</text>
<text font-size="30" text-anchor="middle" textLength="220.0" lengthAdjust="spacingAndGlyphs" transform="translate(705.6 2083.7) rotate(-90)">Probability of OS</text>
<line x1="807.8" y1="2327.0" x2="807.8" y2="2332.5" stroke="#000" stroke-width="1.8"/>
<text x="807.5" y="2354.4" font-size="25.5" text-anchor="middle">0</text>
<line x1="844.8" y1="2327.0" x2="844.8" y2="2332.5" stroke="#000" stroke-width="1.8"/>
<text x="844.5" y="2354.4" font-size="25.5" text-anchor="middle">3</text>
<line x1="881.9" y1="2327.0" x2="881.9" y2="2332.5" stroke="#000" stroke-width="1.8"/>
<text x="881.6" y="2354.4" font-size="25.5" text-anchor="middle">6</text>
<line x1="918.9" y1="2327.0" x2="918.9" y2="2332.5" stroke="#000" stroke-width="1.8"/>
<text x="918.6" y="2354.4" font-size="25.5" text-anchor="middle">9</text>
<line x1="956.0" y1="2327.0" x2="956.0" y2="2332.5" stroke="#000" stroke-width="1.8"/>
<text x="958.0" y="2354.4" font-size="25.5" text-anchor="middle">12</text>
<line x1="993.0" y1="2327.0" x2="993.0" y2="2332.5" stroke="#000" stroke-width="1.8"/>
<text x="995.0" y="2354.4" font-size="25.5" text-anchor="middle">15</text>
<line x1="1030.1" y1="2327.0" x2="1030.1" y2="2332.5" stroke="#000" stroke-width="1.8"/>
<text x="1032.1" y="2354.4" font-size="25.5" text-anchor="middle">18</text>
<line x1="1067.1" y1="2327.0" x2="1067.1" y2="2332.5" stroke="#000" stroke-width="1.8"/>
<text x="1069.1" y="2354.4" font-size="25.5" text-anchor="middle">21</text>
<line x1="1104.2" y1="2327.0" x2="1104.2" y2="2332.5" stroke="#000" stroke-width="1.8"/>
<text x="1106.2" y="2354.4" font-size="25.5" text-anchor="middle">24</text>
<line x1="1141.2" y1="2327.0" x2="1141.2" y2="2332.5" stroke="#000" stroke-width="1.8"/>
<text x="1143.2" y="2354.4" font-size="25.5" text-anchor="middle">27</text>
<line x1="1178.3" y1="2327.0" x2="1178.3" y2="2332.5" stroke="#000" stroke-width="1.8"/>
<text x="1180.3" y="2354.4" font-size="25.5" text-anchor="middle">30</text>
<text x="786.4" y="2374.3" font-size="22" textLength="144.5" lengthAdjust="spacingAndGlyphs">Number at risk</text>
<text x="942.2" y="1960.8" font-size="25.5" textLength="226.3" lengthAdjust="spacingAndGlyphs">Logrank P = 0.8476</text>
<text x="942.2" y="1988.7" font-size="25.5" textLength="299.3" lengthAdjust="spacingAndGlyphs">HR = 0.952 (0.574−1.577)</text>
<path d="M943.3 2016.5H951.8M960.3 2016.5H962.6" stroke="#1f4e6d" stroke-width="2.8" fill="none"/>
<line x1="953.0" y1="2011.5" x2="953.0" y2="2021.5" stroke="#1f4e6d" stroke-width="1.3"/>
<line x1="943.3" y1="2040.8" x2="962.8" y2="2040.8" stroke="#1f4e6d" stroke-width="2.8"/>
<line x1="953.0" y1="2035.8" x2="953.0" y2="2045.8" stroke="#1f4e6d" stroke-width="1.3"/>
<text x="972.6" y="2022.5" font-size="26" textLength="101.0" lengthAdjust="spacingAndGlyphs">&lt;Median</text>
<text x="972.6" y="2046.8" font-size="26" textLength="116.5" lengthAdjust="spacingAndGlyphs">&gt;=Median</text>
<line x1="789.6" y1="2382.6" x2="789.6" y2="2465.1" stroke="#000" stroke-width="1.6"/>
<line x1="788.8" y1="2464.3" x2="1195.7" y2="2464.3" stroke="#000" stroke-width="1.6"/>
<line x1="785.1" y1="2402.9" x2="789.6" y2="2402.9" stroke="#000" stroke-width="1.3"/>
<text x="781.6" y="2409.9" font-size="26" text-anchor="end" fill="#274d65" textLength="100.5" lengthAdjust="spacingAndGlyphs">&lt;Median</text>
<text x="811.8" y="2410.4" font-size="25" text-anchor="middle">44</text>
<text x="848.8" y="2410.4" font-size="25" text-anchor="middle">33</text>
<text x="885.9" y="2410.4" font-size="25" text-anchor="middle">27</text>
<text x="922.9" y="2410.4" font-size="25" text-anchor="middle">24</text>
<text x="960.0" y="2410.4" font-size="25" text-anchor="middle">22</text>
<text x="997.0" y="2410.4" font-size="25" text-anchor="middle">17</text>
<text x="1034.1" y="2410.4" font-size="25" text-anchor="middle">14</text>
<text x="1071.1" y="2410.4" font-size="25" text-anchor="middle">13</text>
<text x="1105.7" y="2410.4" font-size="25" text-anchor="middle">7</text>
<text x="1142.8" y="2410.4" font-size="25" text-anchor="middle">5</text>
<text x="1179.8" y="2410.4" font-size="25" text-anchor="middle">3</text>
<line x1="785.1" y1="2441.0" x2="789.6" y2="2441.0" stroke="#000" stroke-width="1.3"/>
<text x="781.6" y="2448.0" font-size="26" text-anchor="end" fill="#274d65" textLength="117.0" lengthAdjust="spacingAndGlyphs">&gt;=Median</text>
<text x="811.8" y="2448.5" font-size="25" text-anchor="middle">51</text>
<text x="848.8" y="2448.5" font-size="25" text-anchor="middle">45</text>
<text x="885.9" y="2448.5" font-size="25" text-anchor="middle">34</text>
<text x="922.9" y="2448.5" font-size="25" text-anchor="middle">26</text>
<text x="960.0" y="2448.5" font-size="25" text-anchor="middle">23</text>
<text x="997.0" y="2448.5" font-size="25" text-anchor="middle">22</text>
<text x="1034.1" y="2448.5" font-size="25" text-anchor="middle">20</text>
<text x="1071.1" y="2448.5" font-size="25" text-anchor="middle">16</text>
<text x="1105.7" y="2448.5" font-size="25" text-anchor="middle">8</text>
<text x="1142.8" y="2448.5" font-size="25" text-anchor="middle">4</text>
<text x="1179.8" y="2448.5" font-size="25" text-anchor="middle">2</text>
<line x1="807.8" y1="2464.3" x2="807.8" y2="2469.3" stroke="#000" stroke-width="1.3"/>
<text x="807.5" y="2492.3" font-size="25.5" text-anchor="middle">0</text>
<line x1="844.8" y1="2464.3" x2="844.8" y2="2469.3" stroke="#000" stroke-width="1.3"/>
<text x="844.5" y="2492.3" font-size="25.5" text-anchor="middle">3</text>
<line x1="881.9" y1="2464.3" x2="881.9" y2="2469.3" stroke="#000" stroke-width="1.3"/>
<text x="881.6" y="2492.3" font-size="25.5" text-anchor="middle">6</text>
<line x1="918.9" y1="2464.3" x2="918.9" y2="2469.3" stroke="#000" stroke-width="1.3"/>
<text x="918.6" y="2497.3" font-size="25.5" text-anchor="middle">9</text>
<line x1="956.0" y1="2464.3" x2="956.0" y2="2469.3" stroke="#000" stroke-width="1.3"/>
<text x="958.0" y="2492.3" font-size="25.5" text-anchor="middle">12</text>
<line x1="993.0" y1="2464.3" x2="993.0" y2="2469.3" stroke="#000" stroke-width="1.3"/>
<text x="995.0" y="2492.3" font-size="25.5" text-anchor="middle">15</text>
<line x1="1030.1" y1="2464.3" x2="1030.1" y2="2469.3" stroke="#000" stroke-width="1.3"/>
<text x="1032.1" y="2492.3" font-size="25.5" text-anchor="middle">18</text>
<line x1="1067.1" y1="2464.3" x2="1067.1" y2="2469.3" stroke="#000" stroke-width="1.3"/>
<text x="1069.1" y="2492.3" font-size="25.5" text-anchor="middle">21</text>
<line x1="1104.2" y1="2464.3" x2="1104.2" y2="2469.3" stroke="#000" stroke-width="1.3"/>
<text x="1106.2" y="2492.3" font-size="25.5" text-anchor="middle">24</text>
<line x1="1141.2" y1="2464.3" x2="1141.2" y2="2469.3" stroke="#000" stroke-width="1.3"/>
<text x="1143.2" y="2492.3" font-size="25.5" text-anchor="middle">27</text>
<line x1="1178.3" y1="2464.3" x2="1178.3" y2="2469.3" stroke="#000" stroke-width="1.3"/>
<text x="1180.3" y="2492.3" font-size="25.5" text-anchor="middle">30</text>
<text x="794.4" y="2512.6" font-size="26" textLength="361.0" lengthAdjust="spacingAndGlyphs">Time since treatment start (mo)</text>
<line x1="939.6" y1="2308.3" x2="939.6" y2="2109.7" stroke="#111" stroke-width="3.2" stroke-dasharray="12 16"/>
<line x1="976.3" y1="2308.3" x2="976.3" y2="2109.7" stroke="#111" stroke-width="3.2" stroke-dasharray="12 16"/>
<path d="M810.0 1907.4V1911.7H813.6V1919.0H818.0V1935.3H825.2V1955.3H837.9V1982.5H852.5V1985.4H865.2V2002.5H876.1V2026.1H879.7V2040.7H884.1V2051.6H889.9V2061.7H922.6V2082.4H968.7V2098.8H973.4V2110.4H988.7V2120.6H997.8V2131.5H1001.4V2147.8H1026.8V2158.7H1034.1V2168.9H1084.9V2182.3H1146.7V2207.7H1203.0" fill="none" stroke="#1f4e6d" stroke-width="3.5" stroke-dasharray="9 7" stroke-linejoin="miter"/>
<path d="M810.0 1907.4H814.3V1915.4H818.0V1931.0H834.3V1938.2H843.4V1949.9H845.9V1960.8H849.9V1973.5H852.5V1985.4H871.7V2009.8H878.6V2021.8H881.5V2036.3H888.8V2042.5H894.2V2050.8H898.6V2067.9H905.1V2077.0H912.4V2084.2H921.5V2092.2H926.9V2101.7H939.6V2110.4H992.3V2119.5H1005.0V2127.8H1009.4V2136.2H1039.5V2154.0H1083.1V2174.3H1161.2V2218.6H1192.1" fill="none" stroke="#1f4e6d" stroke-width="3.5" stroke-linejoin="miter"/>
<line x1="811.4" y1="1902.4" x2="811.4" y2="1912.4" stroke="#1f4e6d" stroke-width="1.2"/>
<line x1="1037.0" y1="2131.2" x2="1037.0" y2="2141.2" stroke="#1f4e6d" stroke-width="1.2"/>
<line x1="1066.8" y1="2149.0" x2="1066.8" y2="2159.0" stroke="#1f4e6d" stroke-width="1.2"/>
<line x1="1079.5" y1="2149.0" x2="1079.5" y2="2159.0" stroke="#1f4e6d" stroke-width="1.2"/>
<line x1="1090.4" y1="2169.3" x2="1090.4" y2="2179.3" stroke="#1f4e6d" stroke-width="1.2"/>
<line x1="1094.0" y1="2169.3" x2="1094.0" y2="2179.3" stroke="#1f4e6d" stroke-width="1.2"/>
<line x1="1123.1" y1="2169.3" x2="1123.1" y2="2179.3" stroke="#1f4e6d" stroke-width="1.2"/>
<line x1="1126.7" y1="2169.3" x2="1126.7" y2="2179.3" stroke="#1f4e6d" stroke-width="1.2"/>
<line x1="1135.8" y1="2169.3" x2="1135.8" y2="2179.3" stroke="#1f4e6d" stroke-width="1.2"/>
<line x1="1141.2" y1="2169.3" x2="1141.2" y2="2179.3" stroke="#1f4e6d" stroke-width="1.2"/>
<line x1="1181.2" y1="2213.6" x2="1181.2" y2="2223.6" stroke="#1f4e6d" stroke-width="1.2"/>
<line x1="1192.1" y1="2213.6" x2="1192.1" y2="2223.6" stroke="#1f4e6d" stroke-width="1.2"/>
<line x1="957.8" y1="2077.4" x2="957.8" y2="2087.4" stroke="#1f4e6d" stroke-width="1.2"/>
<line x1="1070.4" y1="2163.9" x2="1070.4" y2="2173.9" stroke="#1f4e6d" stroke-width="1.2"/>
<line x1="1074.0" y1="2163.9" x2="1074.0" y2="2173.9" stroke="#1f4e6d" stroke-width="1.2"/>
<line x1="1092.2" y1="2177.3" x2="1092.2" y2="2187.3" stroke="#1f4e6d" stroke-width="1.2"/>
<line x1="1103.1" y1="2177.3" x2="1103.1" y2="2187.3" stroke="#1f4e6d" stroke-width="1.2"/>
<line x1="1124.9" y1="2177.3" x2="1124.9" y2="2187.3" stroke="#1f4e6d" stroke-width="1.2"/>
<line x1="1132.1" y1="2177.3" x2="1132.1" y2="2187.3" stroke="#1f4e6d" stroke-width="1.2"/>
<line x1="1190.2" y1="2202.7" x2="1190.2" y2="2212.7" stroke="#1f4e6d" stroke-width="1.2"/>
<line x1="1201.1" y1="2202.7" x2="1201.1" y2="2212.7" stroke="#1f4e6d" stroke-width="1.2"/>
<line x1="1203.0" y1="2202.7" x2="1203.0" y2="2212.7" stroke="#1f4e6d" stroke-width="1.2"/>
</svg>
</body></html>
